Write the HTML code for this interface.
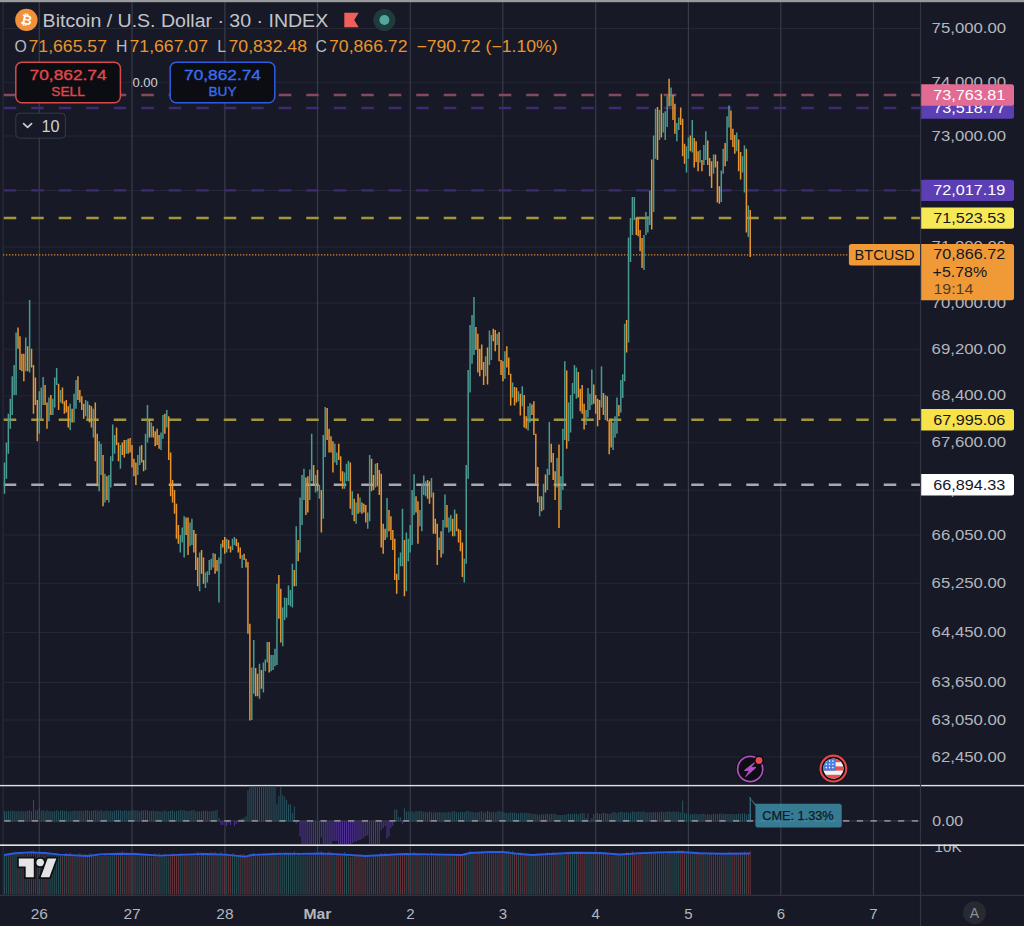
<!DOCTYPE html>
<html><head><meta charset="utf-8"><title>BTCUSD chart</title>
<style>html,body{margin:0;padding:0;background:#171a26;}body{width:1024px;height:926px;overflow:hidden;font-family:"Liberation Sans", sans-serif;}svg{display:block}</style>
</head><body>
<svg width="1024" height="926" viewBox="0 0 1024 926" font-family='"Liberation Sans", sans-serif'>
<rect width="1024" height="926" fill="#171a26"/>
<rect x="4" y="28.00" width="916.5" height="1" fill="#242734"/><rect x="4" y="81.80" width="916.5" height="1" fill="#242734"/><rect x="4" y="135.50" width="916.5" height="1" fill="#242734"/><rect x="4" y="190.00" width="916.5" height="1" fill="#242734"/><rect x="4" y="246.50" width="916.5" height="1" fill="#242734"/><rect x="4" y="302.50" width="916.5" height="1" fill="#242734"/><rect x="4" y="348.80" width="916.5" height="1" fill="#242734"/><rect x="4" y="395.30" width="916.5" height="1" fill="#242734"/><rect x="4" y="442.30" width="916.5" height="1" fill="#242734"/><rect x="4" y="489.70" width="916.5" height="1" fill="#242734"/><rect x="4" y="534.50" width="916.5" height="1" fill="#242734"/><rect x="4" y="582.80" width="916.5" height="1" fill="#242734"/><rect x="4" y="632.00" width="916.5" height="1" fill="#242734"/><rect x="4" y="682.00" width="916.5" height="1" fill="#242734"/><rect x="4" y="719.50" width="916.5" height="1" fill="#242734"/><rect x="4" y="756.50" width="916.5" height="1" fill="#242734"/><rect x="38.70" y="2" width="1.2" height="894" fill="#383b48"/><rect x="131.40" y="2" width="1.2" height="894" fill="#383b48"/><rect x="224.30" y="2" width="1.2" height="894" fill="#383b48"/><rect x="316.90" y="2" width="1.2" height="894" fill="#383b48"/><rect x="409.70" y="2" width="1.2" height="894" fill="#383b48"/><rect x="502.20" y="2" width="1.2" height="894" fill="#383b48"/><rect x="595.10" y="2" width="1.2" height="894" fill="#383b48"/><rect x="687.80" y="2" width="1.2" height="894" fill="#383b48"/><rect x="780.20" y="2" width="1.2" height="894" fill="#383b48"/><rect x="872.90" y="2" width="1.2" height="894" fill="#383b48"/><rect x="2.6" y="2" width="1" height="894" fill="#2c2f3c"/>
<line x1="3.75" y1="95" x2="920.5" y2="95" stroke="#84485f" stroke-width="2.4" stroke-dasharray="12.5 15" opacity="1"/>
<line x1="3.75" y1="108" x2="920.5" y2="108" stroke="#3f2a74" stroke-width="2.4" stroke-dasharray="12.5 15" opacity="1"/>
<line x1="3.75" y1="190.4" x2="920.5" y2="190.4" stroke="#3f2a74" stroke-width="2.4" stroke-dasharray="12.5 15" opacity="1"/>
<line x1="3.75" y1="218" x2="920.5" y2="218" stroke="#a3963a" stroke-width="2.4" stroke-dasharray="12.5 15" opacity="1"/>
<line x1="3.75" y1="419.8" x2="920.5" y2="419.8" stroke="#a3963a" stroke-width="2.4" stroke-dasharray="12.5 15" opacity="1"/>
<line x1="3.75" y1="484.7" x2="920.5" y2="484.7" stroke="#a9a9ab" stroke-width="2.4" stroke-dasharray="12.5 15" opacity="1"/>
<line x1="3" y1="254.8" x2="849" y2="254.8" stroke="#d9892f" stroke-width="1.3" stroke-dasharray="1.3 1.7"/>
<g><rect x="3.75" y="462.50" width="1.5" height="31.25" fill="#4a9a92"/><rect x="5.68" y="442.50" width="1.5" height="36.25" fill="#4a9a92"/><rect x="7.61" y="413.75" width="1.5" height="40.00" fill="#4a9a92"/><rect x="9.55" y="398.75" width="1.5" height="30.00" fill="#4a9a92"/><rect x="11.48" y="376.25" width="1.5" height="38.75" fill="#4a9a92"/><rect x="13.41" y="365.00" width="1.5" height="30.00" fill="#4a9a92"/><rect x="15.34" y="332.50" width="1.5" height="62.50" fill="#4a9a92"/><rect x="17.27" y="327.50" width="1.5" height="21.25" fill="#e8952f"/><rect x="19.21" y="336.25" width="1.5" height="33.75" fill="#e8952f"/><rect x="21.14" y="353.75" width="1.5" height="17.50" fill="#e8952f"/><rect x="23.07" y="353.75" width="1.5" height="27.50" fill="#e8952f"/><rect x="25.00" y="337.50" width="1.5" height="33.75" fill="#4a9a92"/><rect x="26.93" y="346.25" width="1.5" height="25.00" fill="#e8952f"/><rect x="28.87" y="300.00" width="1.5" height="72.50" fill="#4a9a92"/><rect x="30.80" y="348.75" width="1.5" height="18.75" fill="#e8952f"/><rect x="32.73" y="365.00" width="1.5" height="48.75" fill="#e8952f"/><rect x="34.66" y="377.50" width="1.5" height="27.50" fill="#e8952f"/><rect x="36.59" y="400.00" width="1.5" height="41.25" fill="#e8952f"/><rect x="38.53" y="391.25" width="1.5" height="42.50" fill="#4a9a92"/><rect x="40.46" y="387.50" width="1.5" height="32.50" fill="#4a9a92"/><rect x="42.39" y="377.00" width="1.5" height="28.00" fill="#4a9a92"/><rect x="44.32" y="385.00" width="1.5" height="20.00" fill="#e8952f"/><rect x="46.25" y="402.50" width="1.5" height="26.25" fill="#e8952f"/><rect x="48.19" y="397.50" width="1.5" height="23.75" fill="#4a9a92"/><rect x="50.12" y="395.00" width="1.5" height="20.00" fill="#e8952f"/><rect x="52.05" y="398.75" width="1.5" height="16.25" fill="#4a9a92"/><rect x="53.98" y="377.50" width="1.5" height="30.00" fill="#4a9a92"/><rect x="55.91" y="368.00" width="1.5" height="17.00" fill="#4a9a92"/><rect x="57.85" y="383.75" width="1.5" height="26.25" fill="#e8952f"/><rect x="59.78" y="390.00" width="1.5" height="12.50" fill="#4a9a92"/><rect x="61.71" y="387.50" width="1.5" height="16.25" fill="#e8952f"/><rect x="63.64" y="401.25" width="1.5" height="12.50" fill="#e8952f"/><rect x="65.57" y="400.00" width="1.5" height="12.50" fill="#e8952f"/><rect x="67.51" y="406.25" width="1.5" height="21.25" fill="#e8952f"/><rect x="69.44" y="403.75" width="1.5" height="26.25" fill="#4a9a92"/><rect x="71.37" y="408.75" width="1.5" height="13.75" fill="#e8952f"/><rect x="73.30" y="393.75" width="1.5" height="28.75" fill="#4a9a92"/><rect x="75.23" y="380.00" width="1.5" height="28.75" fill="#4a9a92"/><rect x="77.17" y="376.25" width="1.5" height="23.75" fill="#e8952f"/><rect x="79.10" y="390.00" width="1.5" height="12.50" fill="#e8952f"/><rect x="81.03" y="396.25" width="1.5" height="13.75" fill="#e8952f"/><rect x="82.96" y="403.75" width="1.5" height="15.00" fill="#e8952f"/><rect x="84.89" y="400.00" width="1.5" height="16.25" fill="#4a9a92"/><rect x="86.83" y="401.25" width="1.5" height="18.75" fill="#4a9a92"/><rect x="88.76" y="405.00" width="1.5" height="17.50" fill="#e8952f"/><rect x="90.69" y="406.25" width="1.5" height="21.25" fill="#e8952f"/><rect x="92.62" y="408.75" width="1.5" height="28.75" fill="#4a9a92"/><rect x="94.55" y="402.50" width="1.5" height="58.75" fill="#e8952f"/><rect x="96.49" y="433.75" width="1.5" height="52.50" fill="#e8952f"/><rect x="98.42" y="441.25" width="1.5" height="50.00" fill="#4a9a92"/><rect x="100.35" y="443.75" width="1.5" height="31.25" fill="#4a9a92"/><rect x="102.28" y="455.00" width="1.5" height="51.25" fill="#e8952f"/><rect x="104.21" y="473.75" width="1.5" height="28.75" fill="#4a9a92"/><rect x="106.15" y="476.25" width="1.5" height="23.75" fill="#e8952f"/><rect x="108.08" y="475.00" width="1.5" height="27.50" fill="#4a9a92"/><rect x="110.01" y="456.25" width="1.5" height="31.25" fill="#4a9a92"/><rect x="111.94" y="424.50" width="1.5" height="36.75" fill="#4a9a92"/><rect x="113.87" y="435.00" width="1.5" height="18.75" fill="#4a9a92"/><rect x="115.81" y="427.50" width="1.5" height="17.50" fill="#e8952f"/><rect x="117.74" y="442.50" width="1.5" height="18.75" fill="#e8952f"/><rect x="119.67" y="445.00" width="1.5" height="23.75" fill="#4a9a92"/><rect x="121.60" y="442.50" width="1.5" height="12.50" fill="#e8952f"/><rect x="123.53" y="440.00" width="1.5" height="17.50" fill="#e8952f"/><rect x="125.47" y="440.00" width="1.5" height="13.75" fill="#4a9a92"/><rect x="127.40" y="438.75" width="1.5" height="15.00" fill="#e8952f"/><rect x="129.33" y="438.00" width="1.5" height="14.50" fill="#e8952f"/><rect x="131.26" y="445.00" width="1.5" height="22.50" fill="#e8952f"/><rect x="133.19" y="458.75" width="1.5" height="17.50" fill="#e8952f"/><rect x="135.13" y="462.50" width="1.5" height="22.50" fill="#e8952f"/><rect x="137.06" y="455.00" width="1.5" height="20.00" fill="#4a9a92"/><rect x="138.99" y="446.25" width="1.5" height="18.75" fill="#4a9a92"/><rect x="140.92" y="445.00" width="1.5" height="17.50" fill="#e8952f"/><rect x="142.85" y="460.00" width="1.5" height="11.25" fill="#e8952f"/><rect x="144.79" y="433.75" width="1.5" height="36.25" fill="#4a9a92"/><rect x="146.72" y="405.00" width="1.5" height="37.50" fill="#4a9a92"/><rect x="148.65" y="418.75" width="1.5" height="18.75" fill="#e8952f"/><rect x="150.58" y="422.50" width="1.5" height="15.00" fill="#4a9a92"/><rect x="152.51" y="426.25" width="1.5" height="11.25" fill="#e8952f"/><rect x="154.45" y="431.25" width="1.5" height="15.00" fill="#e8952f"/><rect x="156.38" y="428.75" width="1.5" height="16.25" fill="#e8952f"/><rect x="158.31" y="435.00" width="1.5" height="13.75" fill="#e8952f"/><rect x="160.24" y="432.50" width="1.5" height="17.50" fill="#4a9a92"/><rect x="162.17" y="415.00" width="1.5" height="23.75" fill="#4a9a92"/><rect x="164.11" y="413.75" width="1.5" height="20.00" fill="#e8952f"/><rect x="166.04" y="410.00" width="1.5" height="17.50" fill="#4a9a92"/><rect x="167.97" y="416.25" width="1.5" height="43.75" fill="#e8952f"/><rect x="169.90" y="452.50" width="1.5" height="43.75" fill="#e8952f"/><rect x="171.83" y="480.00" width="1.5" height="22.50" fill="#e8952f"/><rect x="173.77" y="490.00" width="1.5" height="23.75" fill="#e8952f"/><rect x="175.70" y="503.75" width="1.5" height="35.00" fill="#e8952f"/><rect x="177.63" y="525.00" width="1.5" height="18.75" fill="#e8952f"/><rect x="179.56" y="535.00" width="1.5" height="17.50" fill="#4a9a92"/><rect x="181.49" y="527.50" width="1.5" height="15.00" fill="#4a9a92"/><rect x="183.43" y="516.25" width="1.5" height="41.25" fill="#4a9a92"/><rect x="185.36" y="517.50" width="1.5" height="17.50" fill="#e8952f"/><rect x="187.29" y="517.50" width="1.5" height="37.50" fill="#e8952f"/><rect x="189.22" y="522.50" width="1.5" height="23.75" fill="#4a9a92"/><rect x="191.15" y="518.75" width="1.5" height="26.25" fill="#4a9a92"/><rect x="193.09" y="530.00" width="1.5" height="22.50" fill="#e8952f"/><rect x="195.02" y="533.75" width="1.5" height="36.25" fill="#e8952f"/><rect x="196.95" y="557.50" width="1.5" height="28.75" fill="#e8952f"/><rect x="198.88" y="552.50" width="1.5" height="38.75" fill="#4a9a92"/><rect x="200.81" y="550.00" width="1.5" height="23.75" fill="#e8952f"/><rect x="202.75" y="557.50" width="1.5" height="26.25" fill="#e8952f"/><rect x="204.68" y="572.50" width="1.5" height="15.50" fill="#4a9a92"/><rect x="206.61" y="571.25" width="1.5" height="11.25" fill="#4a9a92"/><rect x="208.54" y="560.00" width="1.5" height="15.00" fill="#4a9a92"/><rect x="210.47" y="558.75" width="1.5" height="11.25" fill="#4a9a92"/><rect x="212.41" y="553.00" width="1.5" height="14.50" fill="#4a9a92"/><rect x="214.34" y="553.75" width="1.5" height="20.00" fill="#e8952f"/><rect x="216.27" y="560.00" width="1.5" height="11.25" fill="#e8952f"/><rect x="218.20" y="557.50" width="1.5" height="45.00" fill="#4a9a92"/><rect x="220.13" y="543.75" width="1.5" height="20.00" fill="#4a9a92"/><rect x="222.07" y="540.00" width="1.5" height="7.50" fill="#e8952f"/><rect x="224.00" y="537.00" width="1.5" height="16.75" fill="#e8952f"/><rect x="225.93" y="538.75" width="1.5" height="13.75" fill="#4a9a92"/><rect x="227.86" y="540.00" width="1.5" height="8.75" fill="#e8952f"/><rect x="229.79" y="546.25" width="1.5" height="6.25" fill="#e8952f"/><rect x="231.73" y="538.75" width="1.5" height="11.25" fill="#4a9a92"/><rect x="233.66" y="537.00" width="1.5" height="8.00" fill="#4a9a92"/><rect x="235.59" y="538.75" width="1.5" height="7.50" fill="#e8952f"/><rect x="237.52" y="542.50" width="1.5" height="10.00" fill="#e8952f"/><rect x="239.45" y="547.50" width="1.5" height="11.25" fill="#e8952f"/><rect x="241.39" y="555.00" width="1.5" height="13.00" fill="#4a9a92"/><rect x="243.32" y="553.75" width="1.5" height="6.25" fill="#e8952f"/><rect x="245.25" y="558.75" width="1.5" height="8.75" fill="#e8952f"/><rect x="247.18" y="562.00" width="1.5" height="71.75" fill="#e8952f"/><rect x="249.11" y="623.75" width="1.5" height="96.75" fill="#e8952f"/><rect x="251.05" y="667.50" width="1.5" height="52.50" fill="#4a9a92"/><rect x="252.98" y="640.00" width="1.5" height="53.75" fill="#4a9a92"/><rect x="254.91" y="668.00" width="1.5" height="28.25" fill="#e8952f"/><rect x="256.84" y="673.75" width="1.5" height="22.50" fill="#e8952f"/><rect x="258.77" y="663.75" width="1.5" height="35.00" fill="#4a9a92"/><rect x="260.71" y="670.00" width="1.5" height="18.75" fill="#e8952f"/><rect x="262.64" y="662.50" width="1.5" height="30.00" fill="#4a9a92"/><rect x="264.57" y="659.50" width="1.5" height="11.75" fill="#4a9a92"/><rect x="266.50" y="642.00" width="1.5" height="20.50" fill="#4a9a92"/><rect x="268.43" y="642.00" width="1.5" height="30.50" fill="#e8952f"/><rect x="270.37" y="655.00" width="1.5" height="16.25" fill="#4a9a92"/><rect x="272.30" y="655.00" width="1.5" height="15.00" fill="#4a9a92"/><rect x="274.23" y="648.75" width="1.5" height="17.50" fill="#4a9a92"/><rect x="276.16" y="583.75" width="1.5" height="81.25" fill="#4a9a92"/><rect x="278.09" y="575.00" width="1.5" height="43.75" fill="#e8952f"/><rect x="280.03" y="588.75" width="1.5" height="53.75" fill="#e8952f"/><rect x="281.96" y="607.50" width="1.5" height="38.75" fill="#4a9a92"/><rect x="283.89" y="597.50" width="1.5" height="22.50" fill="#4a9a92"/><rect x="285.82" y="598.00" width="1.5" height="19.50" fill="#4a9a92"/><rect x="287.75" y="585.50" width="1.5" height="19.50" fill="#4a9a92"/><rect x="289.69" y="590.00" width="1.5" height="16.25" fill="#4a9a92"/><rect x="291.62" y="563.75" width="1.5" height="43.75" fill="#4a9a92"/><rect x="293.55" y="570.00" width="1.5" height="16.25" fill="#e8952f"/><rect x="295.48" y="526.25" width="1.5" height="60.00" fill="#4a9a92"/><rect x="297.41" y="540.00" width="1.5" height="21.25" fill="#e8952f"/><rect x="299.35" y="497.50" width="1.5" height="55.00" fill="#4a9a92"/><rect x="301.28" y="475.00" width="1.5" height="50.00" fill="#4a9a92"/><rect x="303.21" y="468.75" width="1.5" height="31.25" fill="#4a9a92"/><rect x="305.14" y="477.50" width="1.5" height="37.50" fill="#e8952f"/><rect x="307.07" y="476.25" width="1.5" height="36.25" fill="#e8952f"/><rect x="309.01" y="469.50" width="1.5" height="30.50" fill="#4a9a92"/><rect x="310.94" y="433.75" width="1.5" height="47.50" fill="#4a9a92"/><rect x="312.87" y="465.00" width="1.5" height="20.00" fill="#e8952f"/><rect x="314.80" y="475.00" width="1.5" height="17.50" fill="#4a9a92"/><rect x="316.73" y="470.00" width="1.5" height="21.25" fill="#e8952f"/><rect x="318.67" y="485.00" width="1.5" height="13.75" fill="#4a9a92"/><rect x="320.60" y="490.00" width="1.5" height="42.50" fill="#e8952f"/><rect x="322.53" y="435.00" width="1.5" height="83.75" fill="#4a9a92"/><rect x="324.46" y="407.00" width="1.5" height="50.00" fill="#4a9a92"/><rect x="326.39" y="408.00" width="1.5" height="32.00" fill="#e8952f"/><rect x="328.33" y="428.75" width="1.5" height="23.75" fill="#e8952f"/><rect x="330.26" y="436.25" width="1.5" height="16.25" fill="#e8952f"/><rect x="332.19" y="441.25" width="1.5" height="31.25" fill="#e8952f"/><rect x="334.12" y="443.75" width="1.5" height="18.75" fill="#4a9a92"/><rect x="336.05" y="452.50" width="1.5" height="12.50" fill="#4a9a92"/><rect x="337.99" y="443.75" width="1.5" height="16.25" fill="#e8952f"/><rect x="339.92" y="456.25" width="1.5" height="25.00" fill="#e8952f"/><rect x="341.85" y="471.25" width="1.5" height="17.50" fill="#e8952f"/><rect x="343.78" y="472.50" width="1.5" height="16.25" fill="#4a9a92"/><rect x="345.71" y="463.75" width="1.5" height="17.50" fill="#4a9a92"/><rect x="347.65" y="460.75" width="1.5" height="20.50" fill="#4a9a92"/><rect x="349.58" y="462.50" width="1.5" height="46.25" fill="#e8952f"/><rect x="351.51" y="491.25" width="1.5" height="23.75" fill="#4a9a92"/><rect x="353.44" y="498.75" width="1.5" height="22.50" fill="#e8952f"/><rect x="355.37" y="502.50" width="1.5" height="21.25" fill="#4a9a92"/><rect x="357.31" y="493.75" width="1.5" height="20.00" fill="#e8952f"/><rect x="359.24" y="497.50" width="1.5" height="15.00" fill="#4a9a92"/><rect x="361.17" y="502.50" width="1.5" height="11.25" fill="#e8952f"/><rect x="363.10" y="503.75" width="1.5" height="8.75" fill="#e8952f"/><rect x="365.03" y="505.00" width="1.5" height="17.50" fill="#e8952f"/><rect x="366.97" y="512.50" width="1.5" height="16.25" fill="#4a9a92"/><rect x="368.90" y="455.00" width="1.5" height="66.25" fill="#4a9a92"/><rect x="370.83" y="458.75" width="1.5" height="32.50" fill="#e8952f"/><rect x="372.76" y="475.00" width="1.5" height="15.00" fill="#e8952f"/><rect x="374.69" y="463.75" width="1.5" height="23.75" fill="#4a9a92"/><rect x="376.62" y="463.00" width="1.5" height="23.25" fill="#e8952f"/><rect x="378.56" y="470.00" width="1.5" height="25.00" fill="#e8952f"/><rect x="380.49" y="473.75" width="1.5" height="73.75" fill="#e8952f"/><rect x="382.42" y="523.75" width="1.5" height="30.00" fill="#e8952f"/><rect x="384.35" y="528.75" width="1.5" height="11.25" fill="#e8952f"/><rect x="386.28" y="498.00" width="1.5" height="39.50" fill="#4a9a92"/><rect x="388.22" y="510.00" width="1.5" height="21.25" fill="#e8952f"/><rect x="390.15" y="516.25" width="1.5" height="23.75" fill="#e8952f"/><rect x="392.08" y="530.00" width="1.5" height="20.00" fill="#e8952f"/><rect x="394.01" y="538.75" width="1.5" height="41.25" fill="#e8952f"/><rect x="395.94" y="573.75" width="1.5" height="20.00" fill="#e8952f"/><rect x="397.88" y="557.50" width="1.5" height="22.50" fill="#4a9a92"/><rect x="399.81" y="552.50" width="1.5" height="13.75" fill="#4a9a92"/><rect x="401.74" y="508.75" width="1.5" height="57.50" fill="#4a9a92"/><rect x="403.67" y="540.00" width="1.5" height="56.25" fill="#e8952f"/><rect x="405.60" y="532.50" width="1.5" height="58.75" fill="#4a9a92"/><rect x="407.54" y="538.75" width="1.5" height="22.50" fill="#4a9a92"/><rect x="409.47" y="525.00" width="1.5" height="27.50" fill="#4a9a92"/><rect x="411.40" y="490.00" width="1.5" height="55.00" fill="#4a9a92"/><rect x="413.33" y="474.25" width="1.5" height="40.75" fill="#4a9a92"/><rect x="415.26" y="496.25" width="1.5" height="16.25" fill="#e8952f"/><rect x="417.20" y="501.25" width="1.5" height="42.50" fill="#e8952f"/><rect x="419.13" y="510.00" width="1.5" height="16.25" fill="#4a9a92"/><rect x="421.06" y="483.75" width="1.5" height="47.50" fill="#4a9a92"/><rect x="422.99" y="475.50" width="1.5" height="19.50" fill="#4a9a92"/><rect x="424.92" y="481.25" width="1.5" height="15.00" fill="#4a9a92"/><rect x="426.86" y="480.00" width="1.5" height="18.75" fill="#e8952f"/><rect x="428.79" y="481.25" width="1.5" height="22.50" fill="#e8952f"/><rect x="430.72" y="478.00" width="1.5" height="19.50" fill="#4a9a92"/><rect x="432.65" y="492.50" width="1.5" height="41.25" fill="#e8952f"/><rect x="434.58" y="518.75" width="1.5" height="15.00" fill="#e8952f"/><rect x="436.52" y="523.75" width="1.5" height="41.25" fill="#e8952f"/><rect x="438.45" y="537.50" width="1.5" height="12.50" fill="#4a9a92"/><rect x="440.38" y="531.25" width="1.5" height="26.25" fill="#e8952f"/><rect x="442.31" y="520.00" width="1.5" height="33.75" fill="#4a9a92"/><rect x="444.24" y="494.50" width="1.5" height="33.00" fill="#4a9a92"/><rect x="446.18" y="505.00" width="1.5" height="22.50" fill="#e8952f"/><rect x="448.11" y="517.50" width="1.5" height="15.00" fill="#4a9a92"/><rect x="450.04" y="515.00" width="1.5" height="16.25" fill="#4a9a92"/><rect x="451.97" y="518.75" width="1.5" height="17.50" fill="#e8952f"/><rect x="453.90" y="509.50" width="1.5" height="26.75" fill="#4a9a92"/><rect x="455.84" y="513.75" width="1.5" height="17.50" fill="#e8952f"/><rect x="457.77" y="528.75" width="1.5" height="13.75" fill="#e8952f"/><rect x="459.70" y="530.00" width="1.5" height="21.25" fill="#e8952f"/><rect x="461.63" y="542.50" width="1.5" height="34.50" fill="#e8952f"/><rect x="463.56" y="558.75" width="1.5" height="23.75" fill="#4a9a92"/><rect x="465.50" y="465.00" width="1.5" height="98.75" fill="#4a9a92"/><rect x="467.43" y="370.00" width="1.5" height="108.75" fill="#4a9a92"/><rect x="469.36" y="325.00" width="1.5" height="67.50" fill="#4a9a92"/><rect x="471.29" y="315.00" width="1.5" height="48.75" fill="#4a9a92"/><rect x="473.22" y="297.00" width="1.5" height="58.00" fill="#4a9a92"/><rect x="475.16" y="327.00" width="1.5" height="23.00" fill="#e8952f"/><rect x="477.09" y="333.75" width="1.5" height="38.75" fill="#e8952f"/><rect x="479.02" y="348.75" width="1.5" height="27.50" fill="#e8952f"/><rect x="480.95" y="344.50" width="1.5" height="25.50" fill="#e8952f"/><rect x="482.88" y="362.00" width="1.5" height="23.00" fill="#e8952f"/><rect x="484.82" y="356.25" width="1.5" height="20.00" fill="#4a9a92"/><rect x="486.75" y="347.50" width="1.5" height="37.00" fill="#e8952f"/><rect x="488.68" y="330.50" width="1.5" height="34.50" fill="#4a9a92"/><rect x="490.61" y="335.00" width="1.5" height="25.00" fill="#4a9a92"/><rect x="492.54" y="328.75" width="1.5" height="12.50" fill="#e8952f"/><rect x="494.48" y="330.00" width="1.5" height="21.25" fill="#e8952f"/><rect x="496.41" y="333.75" width="1.5" height="11.25" fill="#4a9a92"/><rect x="498.34" y="332.00" width="1.5" height="29.25" fill="#e8952f"/><rect x="500.27" y="360.00" width="1.5" height="15.00" fill="#e8952f"/><rect x="502.20" y="361.25" width="1.5" height="20.00" fill="#e8952f"/><rect x="504.14" y="351.25" width="1.5" height="27.50" fill="#4a9a92"/><rect x="506.07" y="346.25" width="1.5" height="21.25" fill="#e8952f"/><rect x="508.00" y="357.50" width="1.5" height="17.50" fill="#e8952f"/><rect x="509.93" y="373.75" width="1.5" height="31.75" fill="#e8952f"/><rect x="511.86" y="382.50" width="1.5" height="15.00" fill="#4a9a92"/><rect x="513.80" y="387.00" width="1.5" height="18.50" fill="#e8952f"/><rect x="515.73" y="387.50" width="1.5" height="15.00" fill="#e8952f"/><rect x="517.66" y="391.25" width="1.5" height="10.00" fill="#4a9a92"/><rect x="519.59" y="393.75" width="1.5" height="21.75" fill="#e8952f"/><rect x="521.52" y="386.25" width="1.5" height="20.00" fill="#4a9a92"/><rect x="523.46" y="395.00" width="1.5" height="32.50" fill="#e8952f"/><rect x="525.39" y="416.25" width="1.5" height="12.50" fill="#e8952f"/><rect x="527.32" y="406.25" width="1.5" height="24.25" fill="#4a9a92"/><rect x="529.25" y="403.00" width="1.5" height="19.50" fill="#4a9a92"/><rect x="531.18" y="404.50" width="1.5" height="10.50" fill="#e8952f"/><rect x="533.12" y="401.25" width="1.5" height="33.75" fill="#e8952f"/><rect x="535.05" y="433.75" width="1.5" height="50.00" fill="#e8952f"/><rect x="536.98" y="467.00" width="1.5" height="35.50" fill="#e8952f"/><rect x="538.91" y="496.25" width="1.5" height="20.00" fill="#4a9a92"/><rect x="540.84" y="496.25" width="1.5" height="15.00" fill="#e8952f"/><rect x="542.78" y="483.75" width="1.5" height="26.25" fill="#4a9a92"/><rect x="544.71" y="474.50" width="1.5" height="18.00" fill="#e8952f"/><rect x="546.64" y="468.75" width="1.5" height="21.25" fill="#4a9a92"/><rect x="548.57" y="422.00" width="1.5" height="53.00" fill="#4a9a92"/><rect x="550.50" y="443.75" width="1.5" height="18.75" fill="#e8952f"/><rect x="552.44" y="453.00" width="1.5" height="27.00" fill="#e8952f"/><rect x="554.37" y="471.25" width="1.5" height="28.75" fill="#e8952f"/><rect x="556.30" y="458.00" width="1.5" height="29.50" fill="#4a9a92"/><rect x="558.23" y="444.50" width="1.5" height="83.50" fill="#e8952f"/><rect x="560.16" y="476.25" width="1.5" height="33.75" fill="#4a9a92"/><rect x="562.10" y="428.75" width="1.5" height="61.25" fill="#4a9a92"/><rect x="564.03" y="361.25" width="1.5" height="78.75" fill="#4a9a92"/><rect x="565.96" y="370.50" width="1.5" height="78.25" fill="#e8952f"/><rect x="567.89" y="402.50" width="1.5" height="38.75" fill="#4a9a92"/><rect x="569.82" y="395.00" width="1.5" height="37.50" fill="#4a9a92"/><rect x="571.76" y="383.00" width="1.5" height="35.75" fill="#4a9a92"/><rect x="573.69" y="365.00" width="1.5" height="28.75" fill="#4a9a92"/><rect x="575.62" y="367.50" width="1.5" height="31.25" fill="#4a9a92"/><rect x="577.55" y="372.00" width="1.5" height="25.50" fill="#e8952f"/><rect x="579.48" y="388.75" width="1.5" height="22.50" fill="#e8952f"/><rect x="581.42" y="385.00" width="1.5" height="28.75" fill="#e8952f"/><rect x="583.35" y="403.75" width="1.5" height="25.75" fill="#e8952f"/><rect x="585.28" y="410.00" width="1.5" height="15.00" fill="#4a9a92"/><rect x="587.21" y="388.00" width="1.5" height="29.50" fill="#4a9a92"/><rect x="589.14" y="393.75" width="1.5" height="16.25" fill="#4a9a92"/><rect x="591.08" y="369.50" width="1.5" height="35.50" fill="#4a9a92"/><rect x="593.01" y="384.50" width="1.5" height="19.25" fill="#e8952f"/><rect x="594.94" y="395.00" width="1.5" height="18.75" fill="#e8952f"/><rect x="596.87" y="398.75" width="1.5" height="27.50" fill="#e8952f"/><rect x="598.80" y="400.00" width="1.5" height="20.00" fill="#e8952f"/><rect x="600.74" y="366.25" width="1.5" height="41.25" fill="#4a9a92"/><rect x="602.67" y="393.00" width="1.5" height="22.00" fill="#e8952f"/><rect x="604.60" y="395.00" width="1.5" height="25.00" fill="#4a9a92"/><rect x="606.53" y="396.25" width="1.5" height="25.00" fill="#e8952f"/><rect x="608.46" y="420.00" width="1.5" height="34.25" fill="#e8952f"/><rect x="610.40" y="418.75" width="1.5" height="28.75" fill="#e8952f"/><rect x="612.33" y="422.50" width="1.5" height="27.50" fill="#4a9a92"/><rect x="614.26" y="416.25" width="1.5" height="21.25" fill="#4a9a92"/><rect x="616.19" y="397.50" width="1.5" height="36.25" fill="#4a9a92"/><rect x="618.12" y="405.00" width="1.5" height="11.25" fill="#e8952f"/><rect x="620.06" y="380.00" width="1.5" height="32.50" fill="#4a9a92"/><rect x="621.99" y="374.25" width="1.5" height="23.75" fill="#4a9a92"/><rect x="623.92" y="323.75" width="1.5" height="57.50" fill="#4a9a92"/><rect x="625.85" y="320.00" width="1.5" height="32.50" fill="#e8952f"/><rect x="627.78" y="237.50" width="1.5" height="105.00" fill="#4a9a92"/><rect x="629.72" y="218.00" width="1.5" height="44.00" fill="#4a9a92"/><rect x="631.65" y="197.00" width="1.5" height="38.00" fill="#4a9a92"/><rect x="633.58" y="197.00" width="1.5" height="23.00" fill="#4a9a92"/><rect x="635.51" y="217.50" width="1.5" height="17.50" fill="#e8952f"/><rect x="637.44" y="218.00" width="1.5" height="18.25" fill="#e8952f"/><rect x="639.38" y="230.00" width="1.5" height="21.25" fill="#e8952f"/><rect x="641.31" y="238.00" width="1.5" height="30.00" fill="#e8952f"/><rect x="643.24" y="235.00" width="1.5" height="35.00" fill="#4a9a92"/><rect x="645.17" y="212.00" width="1.5" height="23.00" fill="#4a9a92"/><rect x="647.10" y="216.25" width="1.5" height="16.25" fill="#4a9a92"/><rect x="649.04" y="190.50" width="1.5" height="34.50" fill="#4a9a92"/><rect x="650.97" y="159.50" width="1.5" height="70.00" fill="#e8952f"/><rect x="652.90" y="135.50" width="1.5" height="76.50" fill="#4a9a92"/><rect x="654.83" y="108.75" width="1.5" height="50.00" fill="#4a9a92"/><rect x="656.76" y="107.00" width="1.5" height="53.00" fill="#e8952f"/><rect x="658.70" y="110.00" width="1.5" height="30.00" fill="#4a9a92"/><rect x="660.63" y="93.75" width="1.5" height="43.75" fill="#e8952f"/><rect x="662.56" y="113.00" width="1.5" height="19.50" fill="#4a9a92"/><rect x="664.49" y="111.25" width="1.5" height="28.75" fill="#4a9a92"/><rect x="666.42" y="96.25" width="1.5" height="30.75" fill="#4a9a92"/><rect x="668.36" y="78.75" width="1.5" height="27.50" fill="#e8952f"/><rect x="670.29" y="87.50" width="1.5" height="18.75" fill="#4a9a92"/><rect x="672.22" y="95.00" width="1.5" height="25.00" fill="#e8952f"/><rect x="674.15" y="103.75" width="1.5" height="30.00" fill="#e8952f"/><rect x="676.08" y="123.00" width="1.5" height="18.25" fill="#4a9a92"/><rect x="678.02" y="117.50" width="1.5" height="12.50" fill="#4a9a92"/><rect x="679.95" y="107.50" width="1.5" height="17.50" fill="#e8952f"/><rect x="681.88" y="118.75" width="1.5" height="37.50" fill="#e8952f"/><rect x="683.81" y="143.75" width="1.5" height="20.00" fill="#e8952f"/><rect x="685.74" y="146.25" width="1.5" height="26.25" fill="#4a9a92"/><rect x="687.68" y="137.50" width="1.5" height="21.25" fill="#4a9a92"/><rect x="689.61" y="135.50" width="1.5" height="15.75" fill="#e8952f"/><rect x="691.54" y="120.00" width="1.5" height="32.50" fill="#4a9a92"/><rect x="693.47" y="138.00" width="1.5" height="29.50" fill="#e8952f"/><rect x="695.40" y="141.25" width="1.5" height="20.75" fill="#e8952f"/><rect x="697.34" y="151.25" width="1.5" height="20.00" fill="#e8952f"/><rect x="699.27" y="150.00" width="1.5" height="12.50" fill="#4a9a92"/><rect x="701.20" y="160.00" width="1.5" height="11.25" fill="#e8952f"/><rect x="703.13" y="145.00" width="1.5" height="20.00" fill="#4a9a92"/><rect x="705.06" y="131.25" width="1.5" height="28.75" fill="#4a9a92"/><rect x="707.00" y="140.50" width="1.5" height="24.50" fill="#e8952f"/><rect x="708.93" y="158.00" width="1.5" height="18.25" fill="#e8952f"/><rect x="710.86" y="161.25" width="1.5" height="26.75" fill="#e8952f"/><rect x="712.79" y="154.50" width="1.5" height="19.25" fill="#4a9a92"/><rect x="714.72" y="154.50" width="1.5" height="13.00" fill="#e8952f"/><rect x="716.66" y="161.25" width="1.5" height="41.25" fill="#e8952f"/><rect x="718.59" y="186.25" width="1.5" height="17.50" fill="#e8952f"/><rect x="720.52" y="170.50" width="1.5" height="31.50" fill="#4a9a92"/><rect x="722.45" y="148.75" width="1.5" height="25.00" fill="#4a9a92"/><rect x="724.38" y="143.00" width="1.5" height="23.25" fill="#e8952f"/><rect x="726.32" y="116.25" width="1.5" height="45.00" fill="#4a9a92"/><rect x="728.25" y="105.50" width="1.5" height="22.00" fill="#4a9a92"/><rect x="730.18" y="110.50" width="1.5" height="29.50" fill="#e8952f"/><rect x="732.11" y="128.75" width="1.5" height="18.25" fill="#e8952f"/><rect x="734.04" y="135.00" width="1.5" height="18.75" fill="#e8952f"/><rect x="735.98" y="132.50" width="1.5" height="18.75" fill="#4a9a92"/><rect x="737.91" y="139.50" width="1.5" height="31.75" fill="#e8952f"/><rect x="739.84" y="152.00" width="1.5" height="27.50" fill="#e8952f"/><rect x="741.77" y="156.25" width="1.5" height="16.25" fill="#4a9a92"/><rect x="743.70" y="145.50" width="1.5" height="47.00" fill="#4a9a92"/><rect x="745.64" y="148.75" width="1.5" height="83.75" fill="#e8952f"/><rect x="747.57" y="205.50" width="1.5" height="31.50" fill="#4a9a92"/><rect x="749.50" y="210.00" width="1.5" height="47.00" fill="#e8952f"/></g>
<rect x="0" y="784.9" width="1024" height="1.4" fill="#e2e2e3"/>
<rect x="0" y="844.6" width="1024" height="1.4" fill="#e2e2e3"/>
<line x1="3.75" y1="820.9" x2="920.5" y2="820.9" stroke="#2a2d38" stroke-width="1.6"/>
<g><rect x="4.00" y="811.08" width="1" height="10.72" fill="#29535f"/><rect x="5.93" y="811.36" width="1" height="10.44" fill="#29535f"/><rect x="7.86" y="810.56" width="1" height="11.24" fill="#29535f"/><rect x="9.80" y="811.48" width="1" height="10.32" fill="#29535f"/><rect x="11.73" y="810.74" width="1" height="11.06" fill="#29535f"/><rect x="13.66" y="811.01" width="1" height="10.79" fill="#29535f"/><rect x="15.59" y="811.51" width="1" height="10.29" fill="#29535f"/><rect x="17.52" y="810.79" width="1" height="11.01" fill="#29535f"/><rect x="19.46" y="811.54" width="1" height="10.26" fill="#29535f"/><rect x="21.39" y="810.91" width="1" height="10.89" fill="#29535f"/><rect x="23.32" y="811.49" width="1" height="10.31" fill="#29535f"/><rect x="25.25" y="811.45" width="1" height="10.35" fill="#29535f"/><rect x="27.18" y="810.92" width="1" height="10.88" fill="#29535f"/><rect x="29.12" y="810.28" width="1" height="11.52" fill="#29535f"/><rect x="31.05" y="811.40" width="1" height="10.40" fill="#29535f"/><rect x="32.98" y="799.90" width="1" height="21.90" fill="#29535f"/><rect x="34.91" y="810.60" width="1" height="11.20" fill="#29535f"/><rect x="36.84" y="810.08" width="1" height="11.72" fill="#29535f"/><rect x="38.78" y="807.40" width="1" height="14.40" fill="#29535f"/><rect x="40.71" y="810.97" width="1" height="10.83" fill="#29535f"/><rect x="42.64" y="810.04" width="1" height="11.76" fill="#29535f"/><rect x="44.57" y="811.53" width="1" height="10.27" fill="#29535f"/><rect x="46.50" y="810.23" width="1" height="11.57" fill="#29535f"/><rect x="48.44" y="811.14" width="1" height="10.66" fill="#29535f"/><rect x="50.37" y="811.37" width="1" height="10.43" fill="#29535f"/><rect x="52.30" y="811.41" width="1" height="10.39" fill="#29535f"/><rect x="54.23" y="811.11" width="1" height="10.69" fill="#29535f"/><rect x="56.16" y="810.29" width="1" height="11.51" fill="#29535f"/><rect x="58.10" y="811.31" width="1" height="10.49" fill="#29535f"/><rect x="60.03" y="810.67" width="1" height="11.13" fill="#29535f"/><rect x="61.96" y="810.58" width="1" height="11.22" fill="#29535f"/><rect x="63.89" y="811.00" width="1" height="10.80" fill="#29535f"/><rect x="65.82" y="810.72" width="1" height="11.08" fill="#29535f"/><rect x="67.76" y="811.50" width="1" height="10.30" fill="#29535f"/><rect x="69.69" y="811.50" width="1" height="10.30" fill="#29535f"/><rect x="71.62" y="811.27" width="1" height="10.53" fill="#29535f"/><rect x="73.55" y="810.51" width="1" height="11.29" fill="#29535f"/><rect x="75.48" y="810.92" width="1" height="10.88" fill="#29535f"/><rect x="77.42" y="811.10" width="1" height="10.70" fill="#29535f"/><rect x="79.35" y="810.66" width="1" height="11.14" fill="#29535f"/><rect x="81.28" y="810.87" width="1" height="10.93" fill="#29535f"/><rect x="83.21" y="811.12" width="1" height="10.68" fill="#29535f"/><rect x="85.14" y="810.33" width="1" height="11.47" fill="#29535f"/><rect x="87.08" y="810.48" width="1" height="11.32" fill="#29535f"/><rect x="89.01" y="811.21" width="1" height="10.59" fill="#29535f"/><rect x="90.94" y="810.68" width="1" height="11.12" fill="#29535f"/><rect x="92.87" y="810.76" width="1" height="11.04" fill="#29535f"/><rect x="94.80" y="810.20" width="1" height="11.60" fill="#29535f"/><rect x="96.74" y="810.43" width="1" height="11.37" fill="#29535f"/><rect x="98.67" y="811.14" width="1" height="10.66" fill="#29535f"/><rect x="100.60" y="810.03" width="1" height="11.77" fill="#29535f"/><rect x="102.53" y="811.41" width="1" height="10.39" fill="#29535f"/><rect x="104.46" y="810.93" width="1" height="10.87" fill="#29535f"/><rect x="106.40" y="810.39" width="1" height="11.41" fill="#29535f"/><rect x="108.33" y="811.36" width="1" height="10.44" fill="#29535f"/><rect x="110.26" y="810.82" width="1" height="10.98" fill="#29535f"/><rect x="112.19" y="811.54" width="1" height="10.26" fill="#29535f"/><rect x="114.12" y="810.53" width="1" height="11.27" fill="#29535f"/><rect x="116.06" y="810.38" width="1" height="11.42" fill="#29535f"/><rect x="117.99" y="810.68" width="1" height="11.12" fill="#29535f"/><rect x="119.92" y="810.20" width="1" height="11.60" fill="#29535f"/><rect x="121.85" y="811.10" width="1" height="10.70" fill="#29535f"/><rect x="123.78" y="810.49" width="1" height="11.31" fill="#29535f"/><rect x="125.72" y="810.65" width="1" height="11.15" fill="#29535f"/><rect x="127.65" y="810.67" width="1" height="11.13" fill="#29535f"/><rect x="129.58" y="810.87" width="1" height="10.93" fill="#29535f"/><rect x="131.51" y="810.26" width="1" height="11.54" fill="#29535f"/><rect x="133.44" y="810.09" width="1" height="11.71" fill="#29535f"/><rect x="135.38" y="810.84" width="1" height="10.96" fill="#29535f"/><rect x="137.31" y="810.54" width="1" height="11.26" fill="#29535f"/><rect x="139.24" y="811.50" width="1" height="10.30" fill="#29535f"/><rect x="141.17" y="810.48" width="1" height="11.32" fill="#29535f"/><rect x="143.10" y="810.56" width="1" height="11.24" fill="#29535f"/><rect x="145.04" y="810.01" width="1" height="11.79" fill="#29535f"/><rect x="146.97" y="810.28" width="1" height="11.52" fill="#29535f"/><rect x="148.90" y="811.14" width="1" height="10.66" fill="#29535f"/><rect x="150.83" y="810.98" width="1" height="10.82" fill="#29535f"/><rect x="152.76" y="810.53" width="1" height="11.27" fill="#29535f"/><rect x="154.70" y="811.56" width="1" height="10.24" fill="#29535f"/><rect x="156.63" y="810.86" width="1" height="10.94" fill="#29535f"/><rect x="158.56" y="811.33" width="1" height="10.47" fill="#29535f"/><rect x="160.49" y="811.41" width="1" height="10.39" fill="#29535f"/><rect x="162.42" y="811.51" width="1" height="10.29" fill="#29535f"/><rect x="164.36" y="810.37" width="1" height="11.43" fill="#29535f"/><rect x="166.29" y="811.39" width="1" height="10.41" fill="#29535f"/><rect x="168.22" y="811.20" width="1" height="10.60" fill="#29535f"/><rect x="170.15" y="810.97" width="1" height="10.83" fill="#29535f"/><rect x="172.08" y="810.21" width="1" height="11.59" fill="#29535f"/><rect x="174.02" y="811.47" width="1" height="10.33" fill="#29535f"/><rect x="175.95" y="810.88" width="1" height="10.92" fill="#29535f"/><rect x="177.88" y="810.72" width="1" height="11.08" fill="#29535f"/><rect x="179.81" y="810.19" width="1" height="11.61" fill="#29535f"/><rect x="181.74" y="810.29" width="1" height="11.51" fill="#29535f"/><rect x="183.68" y="810.22" width="1" height="11.58" fill="#29535f"/><rect x="185.61" y="811.15" width="1" height="10.65" fill="#29535f"/><rect x="187.54" y="810.94" width="1" height="10.86" fill="#29535f"/><rect x="189.47" y="811.03" width="1" height="10.77" fill="#29535f"/><rect x="191.40" y="810.19" width="1" height="11.61" fill="#29535f"/><rect x="193.34" y="810.07" width="1" height="11.73" fill="#29535f"/><rect x="195.27" y="811.36" width="1" height="10.44" fill="#29535f"/><rect x="197.20" y="811.32" width="1" height="10.48" fill="#29535f"/><rect x="199.13" y="811.23" width="1" height="10.57" fill="#29535f"/><rect x="201.06" y="811.23" width="1" height="10.57" fill="#29535f"/><rect x="203.00" y="810.82" width="1" height="10.98" fill="#29535f"/><rect x="204.93" y="810.66" width="1" height="11.14" fill="#29535f"/><rect x="206.86" y="811.18" width="1" height="10.62" fill="#29535f"/><rect x="208.79" y="811.59" width="1" height="10.21" fill="#29535f"/><rect x="210.72" y="810.93" width="1" height="10.87" fill="#29535f"/><rect x="212.66" y="811.01" width="1" height="10.79" fill="#29535f"/><rect x="214.59" y="810.69" width="1" height="11.11" fill="#29535f"/><rect x="216.52" y="810.08" width="1" height="11.72" fill="#29535f"/><rect x="405.85" y="811.36" width="1" height="10.44" fill="#29535f"/><rect x="407.79" y="811.67" width="1" height="10.13" fill="#29535f"/><rect x="409.72" y="811.49" width="1" height="10.31" fill="#29535f"/><rect x="411.65" y="811.38" width="1" height="10.42" fill="#29535f"/><rect x="413.58" y="812.50" width="1" height="9.30" fill="#29535f"/><rect x="415.51" y="810.98" width="1" height="10.82" fill="#29535f"/><rect x="417.45" y="811.20" width="1" height="10.60" fill="#29535f"/><rect x="419.38" y="811.03" width="1" height="10.77" fill="#29535f"/><rect x="421.31" y="811.16" width="1" height="10.64" fill="#29535f"/><rect x="423.24" y="811.89" width="1" height="9.91" fill="#29535f"/><rect x="425.17" y="811.88" width="1" height="9.92" fill="#29535f"/><rect x="427.11" y="812.41" width="1" height="9.39" fill="#29535f"/><rect x="429.04" y="811.46" width="1" height="10.34" fill="#29535f"/><rect x="430.97" y="812.49" width="1" height="9.31" fill="#29535f"/><rect x="432.90" y="812.48" width="1" height="9.32" fill="#29535f"/><rect x="434.83" y="812.22" width="1" height="9.58" fill="#29535f"/><rect x="436.77" y="812.31" width="1" height="9.49" fill="#29535f"/><rect x="438.70" y="811.99" width="1" height="9.81" fill="#29535f"/><rect x="440.63" y="812.51" width="1" height="9.29" fill="#29535f"/><rect x="442.56" y="812.60" width="1" height="9.20" fill="#29535f"/><rect x="444.49" y="812.33" width="1" height="9.47" fill="#29535f"/><rect x="446.43" y="812.42" width="1" height="9.38" fill="#29535f"/><rect x="448.36" y="811.95" width="1" height="9.85" fill="#29535f"/><rect x="450.29" y="812.55" width="1" height="9.25" fill="#29535f"/><rect x="452.22" y="811.03" width="1" height="10.77" fill="#29535f"/><rect x="454.15" y="811.49" width="1" height="10.31" fill="#29535f"/><rect x="456.09" y="812.33" width="1" height="9.47" fill="#29535f"/><rect x="458.02" y="812.15" width="1" height="9.65" fill="#29535f"/><rect x="459.95" y="811.97" width="1" height="9.83" fill="#29535f"/><rect x="461.88" y="811.94" width="1" height="9.86" fill="#29535f"/><rect x="463.81" y="812.38" width="1" height="9.42" fill="#29535f"/><rect x="465.75" y="811.07" width="1" height="10.73" fill="#29535f"/><rect x="467.68" y="810.81" width="1" height="10.99" fill="#29535f"/><rect x="469.61" y="811.76" width="1" height="10.04" fill="#29535f"/><rect x="471.54" y="811.73" width="1" height="10.07" fill="#29535f"/><rect x="473.47" y="812.45" width="1" height="9.35" fill="#29535f"/><rect x="475.41" y="812.42" width="1" height="9.38" fill="#29535f"/><rect x="477.34" y="811.98" width="1" height="9.82" fill="#29535f"/><rect x="479.27" y="812.12" width="1" height="9.68" fill="#29535f"/><rect x="481.20" y="811.11" width="1" height="10.69" fill="#29535f"/><rect x="483.13" y="812.31" width="1" height="9.49" fill="#29535f"/><rect x="485.07" y="812.56" width="1" height="9.24" fill="#29535f"/><rect x="487.00" y="810.89" width="1" height="10.91" fill="#29535f"/><rect x="488.93" y="811.65" width="1" height="10.15" fill="#29535f"/><rect x="490.86" y="812.34" width="1" height="9.46" fill="#29535f"/><rect x="492.79" y="811.62" width="1" height="10.18" fill="#29535f"/><rect x="494.73" y="812.55" width="1" height="9.25" fill="#29535f"/><rect x="496.66" y="811.65" width="1" height="10.15" fill="#29535f"/><rect x="498.59" y="810.84" width="1" height="10.96" fill="#29535f"/><rect x="500.52" y="811.74" width="1" height="10.06" fill="#29535f"/><rect x="502.45" y="812.07" width="1" height="9.73" fill="#29535f"/><rect x="504.39" y="812.78" width="1" height="9.02" fill="#29535f"/><rect x="506.32" y="812.73" width="1" height="9.07" fill="#29535f"/><rect x="508.25" y="813.10" width="1" height="8.70" fill="#29535f"/><rect x="510.18" y="812.35" width="1" height="9.45" fill="#29535f"/><rect x="512.11" y="812.79" width="1" height="9.01" fill="#29535f"/><rect x="514.05" y="812.54" width="1" height="9.26" fill="#29535f"/><rect x="515.98" y="813.26" width="1" height="8.54" fill="#29535f"/><rect x="517.91" y="813.51" width="1" height="8.29" fill="#29535f"/><rect x="519.84" y="812.78" width="1" height="9.02" fill="#29535f"/><rect x="521.77" y="812.61" width="1" height="9.19" fill="#29535f"/><rect x="523.71" y="812.86" width="1" height="8.94" fill="#29535f"/><rect x="525.64" y="813.00" width="1" height="8.80" fill="#29535f"/><rect x="527.57" y="813.06" width="1" height="8.74" fill="#29535f"/><rect x="529.50" y="813.24" width="1" height="8.56" fill="#29535f"/><rect x="531.43" y="814.03" width="1" height="7.77" fill="#29535f"/><rect x="533.37" y="813.70" width="1" height="8.10" fill="#29535f"/><rect x="535.30" y="813.99" width="1" height="7.81" fill="#29535f"/><rect x="537.23" y="814.52" width="1" height="7.28" fill="#29535f"/><rect x="539.16" y="814.60" width="1" height="7.20" fill="#29535f"/><rect x="541.09" y="814.32" width="1" height="7.48" fill="#29535f"/><rect x="543.03" y="814.42" width="1" height="7.38" fill="#29535f"/><rect x="544.96" y="813.89" width="1" height="7.91" fill="#29535f"/><rect x="546.89" y="813.59" width="1" height="8.21" fill="#29535f"/><rect x="548.82" y="814.37" width="1" height="7.43" fill="#29535f"/><rect x="550.75" y="813.76" width="1" height="8.04" fill="#29535f"/><rect x="552.69" y="813.76" width="1" height="8.04" fill="#29535f"/><rect x="554.62" y="813.88" width="1" height="7.92" fill="#29535f"/><rect x="556.55" y="814.78" width="1" height="7.02" fill="#29535f"/><rect x="558.48" y="815.05" width="1" height="6.75" fill="#29535f"/><rect x="560.41" y="815.04" width="1" height="6.76" fill="#29535f"/><rect x="562.35" y="814.98" width="1" height="6.82" fill="#29535f"/><rect x="564.28" y="814.87" width="1" height="6.93" fill="#29535f"/><rect x="566.21" y="814.19" width="1" height="7.61" fill="#29535f"/><rect x="568.14" y="813.71" width="1" height="8.09" fill="#29535f"/><rect x="570.07" y="813.69" width="1" height="8.11" fill="#29535f"/><rect x="572.01" y="814.10" width="1" height="7.70" fill="#29535f"/><rect x="573.94" y="813.76" width="1" height="8.04" fill="#29535f"/><rect x="575.87" y="813.46" width="1" height="8.34" fill="#29535f"/><rect x="577.80" y="814.37" width="1" height="7.43" fill="#29535f"/><rect x="579.73" y="813.46" width="1" height="8.34" fill="#29535f"/><rect x="581.67" y="813.02" width="1" height="8.78" fill="#29535f"/><rect x="583.60" y="813.10" width="1" height="8.70" fill="#29535f"/><rect x="585.53" y="817.90" width="1" height="3.90" fill="#29535f"/><rect x="587.46" y="813.33" width="1" height="8.47" fill="#29535f"/><rect x="589.39" y="820.90" width="1" height="1.50" fill="#54339a"/><rect x="591.33" y="817.90" width="1" height="3.90" fill="#29535f"/><rect x="593.26" y="814.22" width="1" height="7.58" fill="#29535f"/><rect x="595.19" y="813.45" width="1" height="8.35" fill="#29535f"/><rect x="597.12" y="813.10" width="1" height="8.70" fill="#29535f"/><rect x="599.05" y="813.80" width="1" height="8.00" fill="#29535f"/><rect x="600.99" y="813.68" width="1" height="8.12" fill="#29535f"/><rect x="602.92" y="812.81" width="1" height="8.99" fill="#29535f"/><rect x="604.85" y="813.01" width="1" height="8.79" fill="#29535f"/><rect x="606.78" y="813.67" width="1" height="8.13" fill="#29535f"/><rect x="608.71" y="813.62" width="1" height="8.18" fill="#29535f"/><rect x="610.65" y="813.48" width="1" height="8.32" fill="#29535f"/><rect x="612.58" y="812.31" width="1" height="9.49" fill="#29535f"/><rect x="614.51" y="812.34" width="1" height="9.46" fill="#29535f"/><rect x="616.44" y="813.16" width="1" height="8.64" fill="#29535f"/><rect x="618.37" y="812.09" width="1" height="9.71" fill="#29535f"/><rect x="620.31" y="811.77" width="1" height="10.03" fill="#29535f"/><rect x="622.24" y="812.11" width="1" height="9.69" fill="#29535f"/><rect x="624.17" y="812.43" width="1" height="9.37" fill="#29535f"/><rect x="626.10" y="812.12" width="1" height="9.68" fill="#29535f"/><rect x="628.03" y="812.69" width="1" height="9.11" fill="#29535f"/><rect x="629.97" y="812.84" width="1" height="8.96" fill="#29535f"/><rect x="631.90" y="811.49" width="1" height="10.31" fill="#29535f"/><rect x="633.83" y="811.92" width="1" height="9.88" fill="#29535f"/><rect x="635.76" y="812.08" width="1" height="9.72" fill="#29535f"/><rect x="637.69" y="811.50" width="1" height="10.30" fill="#29535f"/><rect x="639.63" y="812.18" width="1" height="9.62" fill="#29535f"/><rect x="641.56" y="811.56" width="1" height="10.24" fill="#29535f"/><rect x="643.49" y="811.61" width="1" height="10.19" fill="#29535f"/><rect x="645.42" y="812.45" width="1" height="9.35" fill="#29535f"/><rect x="647.35" y="812.38" width="1" height="9.42" fill="#29535f"/><rect x="649.29" y="812.31" width="1" height="9.49" fill="#29535f"/><rect x="651.22" y="812.37" width="1" height="9.43" fill="#29535f"/><rect x="653.15" y="811.87" width="1" height="9.93" fill="#29535f"/><rect x="655.08" y="812.31" width="1" height="9.49" fill="#29535f"/><rect x="657.01" y="812.08" width="1" height="9.72" fill="#29535f"/><rect x="658.95" y="812.47" width="1" height="9.33" fill="#29535f"/><rect x="660.88" y="811.36" width="1" height="10.44" fill="#29535f"/><rect x="662.81" y="812.13" width="1" height="9.67" fill="#29535f"/><rect x="664.74" y="811.97" width="1" height="9.83" fill="#29535f"/><rect x="666.67" y="811.78" width="1" height="10.02" fill="#29535f"/><rect x="668.61" y="811.31" width="1" height="10.49" fill="#29535f"/><rect x="670.54" y="811.98" width="1" height="9.82" fill="#29535f"/><rect x="672.47" y="811.27" width="1" height="10.53" fill="#29535f"/><rect x="674.40" y="811.83" width="1" height="9.97" fill="#29535f"/><rect x="676.33" y="811.78" width="1" height="10.02" fill="#29535f"/><rect x="678.27" y="811.78" width="1" height="10.02" fill="#29535f"/><rect x="680.20" y="812.57" width="1" height="9.23" fill="#29535f"/><rect x="682.13" y="800.60" width="1" height="21.20" fill="#29535f"/><rect x="684.06" y="812.88" width="1" height="8.92" fill="#29535f"/><rect x="685.99" y="813.40" width="1" height="8.40" fill="#29535f"/><rect x="687.93" y="812.56" width="1" height="9.24" fill="#29535f"/><rect x="689.86" y="814.62" width="1" height="7.18" fill="#29535f"/><rect x="691.79" y="814.14" width="1" height="7.66" fill="#29535f"/><rect x="693.72" y="813.74" width="1" height="8.06" fill="#29535f"/><rect x="695.65" y="814.01" width="1" height="7.79" fill="#29535f"/><rect x="697.59" y="814.38" width="1" height="7.42" fill="#29535f"/><rect x="699.52" y="814.07" width="1" height="7.73" fill="#29535f"/><rect x="701.45" y="814.01" width="1" height="7.79" fill="#29535f"/><rect x="703.38" y="813.65" width="1" height="8.15" fill="#29535f"/><rect x="705.31" y="814.73" width="1" height="7.07" fill="#29535f"/><rect x="707.25" y="814.00" width="1" height="7.80" fill="#29535f"/><rect x="709.18" y="814.50" width="1" height="7.30" fill="#29535f"/><rect x="711.11" y="814.46" width="1" height="7.34" fill="#29535f"/><rect x="713.04" y="813.66" width="1" height="8.14" fill="#29535f"/><rect x="714.97" y="814.09" width="1" height="7.71" fill="#29535f"/><rect x="716.91" y="814.00" width="1" height="7.80" fill="#29535f"/><rect x="718.84" y="813.68" width="1" height="8.12" fill="#29535f"/><rect x="720.77" y="813.44" width="1" height="8.36" fill="#29535f"/><rect x="722.70" y="814.19" width="1" height="7.61" fill="#29535f"/><rect x="724.63" y="813.92" width="1" height="7.88" fill="#29535f"/><rect x="726.57" y="814.09" width="1" height="7.71" fill="#29535f"/><rect x="728.50" y="814.08" width="1" height="7.72" fill="#29535f"/><rect x="730.43" y="813.79" width="1" height="8.01" fill="#29535f"/><rect x="732.36" y="814.18" width="1" height="7.62" fill="#29535f"/><rect x="734.29" y="814.05" width="1" height="7.75" fill="#29535f"/><rect x="736.23" y="814.14" width="1" height="7.66" fill="#29535f"/><rect x="738.16" y="813.39" width="1" height="8.41" fill="#29535f"/><rect x="740.09" y="813.78" width="1" height="8.02" fill="#29535f"/><rect x="742.02" y="813.50" width="1" height="8.30" fill="#29535f"/><rect x="743.95" y="813.39" width="1" height="8.41" fill="#29535f"/><rect x="745.89" y="814.48" width="1" height="7.32" fill="#29535f"/><rect x="747.82" y="814.00" width="1" height="7.80" fill="#29535f"/><rect x="749.75" y="813.39" width="1" height="8.41" fill="#29535f"/><rect x="218.45" y="817.90" width="1" height="3.90" fill="#29535f"/><rect x="220.38" y="820.90" width="1" height="4.00" fill="#54339a"/><rect x="222.32" y="820.90" width="1" height="4.00" fill="#54339a"/><rect x="224.25" y="820.90" width="1" height="1.00" fill="#54339a"/><rect x="226.18" y="820.90" width="1" height="5.00" fill="#54339a"/><rect x="228.11" y="820.90" width="1" height="2.00" fill="#54339a"/><rect x="230.04" y="820.90" width="1" height="4.00" fill="#54339a"/><rect x="233.91" y="820.90" width="1" height="5.00" fill="#54339a"/><rect x="235.84" y="820.90" width="1" height="3.00" fill="#54339a"/><rect x="237.77" y="820.90" width="1" height="1.50" fill="#54339a"/><rect x="239.70" y="819.40" width="1" height="2.40" fill="#29535f"/><rect x="241.64" y="818.40" width="1" height="3.40" fill="#29535f"/><rect x="243.57" y="817.90" width="1" height="3.90" fill="#29535f"/><rect x="245.50" y="816.40" width="1" height="5.40" fill="#29535f"/><rect x="247.43" y="790.40" width="1" height="31.40" fill="#29535f"/><rect x="249.36" y="785.90" width="1" height="35.90" fill="#29535f"/><rect x="251.30" y="785.90" width="1" height="35.90" fill="#29535f"/><rect x="253.23" y="785.90" width="1" height="35.90" fill="#29535f"/><rect x="255.16" y="785.90" width="1" height="35.90" fill="#29535f"/><rect x="257.09" y="785.90" width="1" height="35.90" fill="#29535f"/><rect x="259.02" y="785.90" width="1" height="35.90" fill="#29535f"/><rect x="260.96" y="785.90" width="1" height="35.90" fill="#29535f"/><rect x="262.89" y="785.90" width="1" height="35.90" fill="#29535f"/><rect x="264.82" y="785.90" width="1" height="35.90" fill="#29535f"/><rect x="266.75" y="785.90" width="1" height="35.90" fill="#29535f"/><rect x="268.68" y="785.90" width="1" height="35.90" fill="#29535f"/><rect x="270.62" y="785.90" width="1" height="35.90" fill="#29535f"/><rect x="272.55" y="785.90" width="1" height="35.90" fill="#29535f"/><rect x="274.48" y="785.90" width="1" height="35.90" fill="#29535f"/><rect x="276.41" y="804.40" width="1" height="17.40" fill="#29535f"/><rect x="278.34" y="795.90" width="1" height="25.90" fill="#29535f"/><rect x="280.28" y="786.90" width="1" height="34.90" fill="#29535f"/><rect x="282.21" y="794.90" width="1" height="26.90" fill="#29535f"/><rect x="284.14" y="796.90" width="1" height="24.90" fill="#29535f"/><rect x="286.07" y="799.90" width="1" height="21.90" fill="#29535f"/><rect x="288.00" y="804.40" width="1" height="17.40" fill="#29535f"/><rect x="289.94" y="804.40" width="1" height="17.40" fill="#29535f"/><rect x="291.87" y="812.90" width="1" height="8.90" fill="#29535f"/><rect x="293.80" y="806.40" width="1" height="15.40" fill="#29535f"/><rect x="295.73" y="820.90" width="1" height="2.50" fill="#54339a"/><rect x="297.66" y="820.90" width="1" height="0.50" fill="#54339a"/><rect x="299.60" y="820.90" width="1" height="15.70" fill="#54339a"/><rect x="301.53" y="820.90" width="1" height="23.20" fill="#54339a"/><rect x="303.46" y="820.90" width="1" height="23.20" fill="#54339a"/><rect x="305.39" y="820.90" width="1" height="23.20" fill="#54339a"/><rect x="307.32" y="820.90" width="1" height="23.20" fill="#54339a"/><rect x="309.26" y="820.90" width="1" height="23.20" fill="#54339a"/><rect x="311.19" y="820.90" width="1" height="23.20" fill="#54339a"/><rect x="313.12" y="820.90" width="1" height="23.20" fill="#54339a"/><rect x="315.05" y="820.90" width="1" height="23.20" fill="#54339a"/><rect x="316.98" y="820.90" width="1" height="23.20" fill="#54339a"/><rect x="318.92" y="820.90" width="1" height="23.20" fill="#54339a"/><rect x="320.85" y="820.90" width="1" height="16.50" fill="#54339a"/><rect x="322.78" y="820.90" width="1" height="23.20" fill="#54339a"/><rect x="324.71" y="820.90" width="1" height="23.20" fill="#54339a"/><rect x="326.64" y="820.90" width="1" height="23.20" fill="#54339a"/><rect x="328.58" y="820.90" width="1" height="23.20" fill="#54339a"/><rect x="330.51" y="820.90" width="1" height="23.20" fill="#54339a"/><rect x="332.44" y="820.90" width="1" height="20.00" fill="#54339a"/><rect x="334.37" y="820.90" width="1" height="20.00" fill="#54339a"/><rect x="336.30" y="820.90" width="1" height="20.00" fill="#54339a"/><rect x="338.24" y="820.90" width="1" height="23.20" fill="#54339a"/><rect x="340.17" y="820.90" width="1" height="23.20" fill="#54339a"/><rect x="342.10" y="820.90" width="1" height="23.20" fill="#54339a"/><rect x="344.03" y="820.90" width="1" height="23.20" fill="#54339a"/><rect x="345.96" y="820.90" width="1" height="23.20" fill="#54339a"/><rect x="347.90" y="820.90" width="1" height="23.20" fill="#54339a"/><rect x="349.83" y="820.90" width="1" height="23.20" fill="#54339a"/><rect x="351.76" y="820.90" width="1" height="22.00" fill="#54339a"/><rect x="353.69" y="820.90" width="1" height="21.00" fill="#54339a"/><rect x="355.62" y="820.90" width="1" height="20.50" fill="#54339a"/><rect x="357.56" y="820.90" width="1" height="19.50" fill="#54339a"/><rect x="359.49" y="820.90" width="1" height="19.00" fill="#54339a"/><rect x="361.42" y="820.90" width="1" height="18.00" fill="#54339a"/><rect x="363.35" y="820.90" width="1" height="16.50" fill="#54339a"/><rect x="365.28" y="820.90" width="1" height="15.00" fill="#54339a"/><rect x="367.22" y="820.90" width="1" height="14.50" fill="#54339a"/><rect x="369.15" y="820.90" width="1" height="23.20" fill="#54339a"/><rect x="371.08" y="820.90" width="1" height="23.20" fill="#54339a"/><rect x="373.01" y="820.90" width="1" height="23.20" fill="#54339a"/><rect x="374.94" y="820.90" width="1" height="23.20" fill="#54339a"/><rect x="376.88" y="820.90" width="1" height="23.20" fill="#54339a"/><rect x="378.81" y="820.90" width="1" height="23.20" fill="#54339a"/><rect x="380.74" y="820.90" width="1" height="9.00" fill="#54339a"/><rect x="382.67" y="820.90" width="1" height="7.00" fill="#54339a"/><rect x="384.60" y="820.90" width="1" height="5.00" fill="#54339a"/><rect x="386.53" y="820.90" width="1" height="17.70" fill="#54339a"/><rect x="388.47" y="820.90" width="1" height="15.50" fill="#54339a"/><rect x="390.40" y="820.90" width="1" height="7.00" fill="#54339a"/><rect x="392.33" y="820.90" width="1" height="5.00" fill="#54339a"/><rect x="394.26" y="809.60" width="1" height="12.20" fill="#29535f"/><rect x="396.19" y="809.60" width="1" height="12.20" fill="#29535f"/><rect x="398.13" y="816.90" width="1" height="4.90" fill="#29535f"/><rect x="400.06" y="817.40" width="1" height="4.40" fill="#29535f"/><rect x="401.99" y="820.90" width="1" height="3.00" fill="#54339a"/><rect x="403.92" y="808.30" width="1" height="13.50" fill="#29535f"/></g>
<line x1="4.3" y1="820.9" x2="920.5" y2="820.9" stroke="#85878e" stroke-width="1.6" stroke-dasharray="6.25 7.5"/>
<g><rect x="4.00" y="854.65" width="1" height="39.85" fill="#284d52"/><rect x="5.93" y="855.03" width="1" height="39.47" fill="#284d52"/><rect x="7.86" y="853.91" width="1" height="40.59" fill="#284d52"/><rect x="9.80" y="852.82" width="1" height="41.68" fill="#65343a"/><rect x="11.73" y="854.01" width="1" height="40.49" fill="#284d52"/><rect x="13.66" y="853.77" width="1" height="40.73" fill="#284d52"/><rect x="15.59" y="853.42" width="1" height="41.08" fill="#284d52"/><rect x="17.52" y="852.37" width="1" height="42.13" fill="#65343a"/><rect x="19.46" y="852.61" width="1" height="41.89" fill="#284d52"/><rect x="21.39" y="852.89" width="1" height="41.61" fill="#65343a"/><rect x="23.32" y="853.75" width="1" height="40.75" fill="#284d52"/><rect x="25.25" y="854.23" width="1" height="40.27" fill="#284d52"/><rect x="27.18" y="852.36" width="1" height="42.14" fill="#65343a"/><rect x="29.12" y="853.34" width="1" height="41.16" fill="#284d52"/><rect x="31.05" y="850.91" width="1" height="43.59" fill="#65343a"/><rect x="32.98" y="850.07" width="1" height="44.43" fill="#65343a"/><rect x="34.91" y="852.28" width="1" height="42.22" fill="#65343a"/><rect x="36.84" y="853.37" width="1" height="41.13" fill="#65343a"/><rect x="38.78" y="853.00" width="1" height="41.50" fill="#284d52"/><rect x="40.71" y="853.28" width="1" height="41.22" fill="#284d52"/><rect x="42.64" y="852.58" width="1" height="41.92" fill="#284d52"/><rect x="44.57" y="854.54" width="1" height="39.96" fill="#65343a"/><rect x="46.50" y="853.19" width="1" height="41.31" fill="#65343a"/><rect x="48.44" y="853.16" width="1" height="41.34" fill="#284d52"/><rect x="50.37" y="854.53" width="1" height="39.97" fill="#284d52"/><rect x="52.30" y="855.32" width="1" height="39.18" fill="#284d52"/><rect x="54.23" y="853.55" width="1" height="40.95" fill="#284d52"/><rect x="56.16" y="854.66" width="1" height="39.84" fill="#284d52"/><rect x="58.10" y="853.93" width="1" height="40.57" fill="#284d52"/><rect x="60.03" y="854.94" width="1" height="39.56" fill="#284d52"/><rect x="61.96" y="855.99" width="1" height="38.51" fill="#65343a"/><rect x="63.89" y="854.32" width="1" height="40.18" fill="#284d52"/><rect x="65.82" y="852.80" width="1" height="41.70" fill="#65343a"/><rect x="67.76" y="856.25" width="1" height="38.25" fill="#284d52"/><rect x="69.69" y="852.65" width="1" height="41.85" fill="#65343a"/><rect x="71.62" y="856.11" width="1" height="38.39" fill="#65343a"/><rect x="73.55" y="856.51" width="1" height="37.99" fill="#284d52"/><rect x="75.48" y="854.92" width="1" height="39.58" fill="#284d52"/><rect x="77.42" y="855.10" width="1" height="39.40" fill="#65343a"/><rect x="79.35" y="853.05" width="1" height="41.45" fill="#65343a"/><rect x="81.28" y="855.56" width="1" height="38.94" fill="#65343a"/><rect x="83.21" y="854.82" width="1" height="39.68" fill="#65343a"/><rect x="85.14" y="854.11" width="1" height="40.39" fill="#284d52"/><rect x="87.08" y="856.94" width="1" height="37.56" fill="#284d52"/><rect x="89.01" y="853.34" width="1" height="41.16" fill="#65343a"/><rect x="90.94" y="853.73" width="1" height="40.77" fill="#65343a"/><rect x="92.87" y="855.00" width="1" height="39.50" fill="#284d52"/><rect x="94.80" y="856.09" width="1" height="38.41" fill="#65343a"/><rect x="96.74" y="854.55" width="1" height="39.95" fill="#65343a"/><rect x="98.67" y="856.16" width="1" height="38.34" fill="#284d52"/><rect x="100.60" y="856.15" width="1" height="38.35" fill="#284d52"/><rect x="102.53" y="855.98" width="1" height="38.52" fill="#65343a"/><rect x="104.46" y="853.52" width="1" height="40.98" fill="#284d52"/><rect x="106.40" y="855.28" width="1" height="39.22" fill="#65343a"/><rect x="108.33" y="855.82" width="1" height="38.68" fill="#284d52"/><rect x="110.26" y="854.30" width="1" height="40.20" fill="#284d52"/><rect x="112.19" y="855.22" width="1" height="39.28" fill="#284d52"/><rect x="114.12" y="854.06" width="1" height="40.44" fill="#284d52"/><rect x="116.06" y="853.49" width="1" height="41.01" fill="#65343a"/><rect x="117.99" y="853.30" width="1" height="41.20" fill="#65343a"/><rect x="119.92" y="853.80" width="1" height="40.70" fill="#284d52"/><rect x="121.85" y="851.32" width="1" height="43.18" fill="#65343a"/><rect x="123.78" y="855.36" width="1" height="39.14" fill="#284d52"/><rect x="125.72" y="853.62" width="1" height="40.88" fill="#65343a"/><rect x="127.65" y="854.47" width="1" height="40.03" fill="#65343a"/><rect x="129.58" y="853.63" width="1" height="40.87" fill="#65343a"/><rect x="131.51" y="854.08" width="1" height="40.42" fill="#284d52"/><rect x="133.44" y="853.57" width="1" height="40.93" fill="#65343a"/><rect x="135.38" y="854.25" width="1" height="40.25" fill="#284d52"/><rect x="137.31" y="854.04" width="1" height="40.46" fill="#284d52"/><rect x="139.24" y="854.59" width="1" height="39.91" fill="#284d52"/><rect x="141.17" y="854.82" width="1" height="39.68" fill="#65343a"/><rect x="143.10" y="855.15" width="1" height="39.35" fill="#284d52"/><rect x="145.04" y="855.28" width="1" height="39.22" fill="#284d52"/><rect x="146.97" y="855.12" width="1" height="39.38" fill="#65343a"/><rect x="148.90" y="856.36" width="1" height="38.14" fill="#65343a"/><rect x="150.83" y="856.38" width="1" height="38.12" fill="#284d52"/><rect x="152.76" y="856.79" width="1" height="37.71" fill="#65343a"/><rect x="154.70" y="853.17" width="1" height="41.33" fill="#65343a"/><rect x="156.63" y="856.80" width="1" height="37.70" fill="#284d52"/><rect x="158.56" y="853.33" width="1" height="41.17" fill="#65343a"/><rect x="160.49" y="855.69" width="1" height="38.81" fill="#284d52"/><rect x="162.42" y="856.72" width="1" height="37.78" fill="#284d52"/><rect x="164.36" y="853.50" width="1" height="41.00" fill="#284d52"/><rect x="166.29" y="857.12" width="1" height="37.38" fill="#284d52"/><rect x="168.22" y="856.77" width="1" height="37.73" fill="#284d52"/><rect x="170.15" y="855.56" width="1" height="38.94" fill="#65343a"/><rect x="172.08" y="853.29" width="1" height="41.21" fill="#65343a"/><rect x="174.02" y="854.58" width="1" height="39.92" fill="#65343a"/><rect x="175.95" y="854.81" width="1" height="39.69" fill="#65343a"/><rect x="177.88" y="854.43" width="1" height="40.07" fill="#65343a"/><rect x="179.81" y="853.10" width="1" height="41.40" fill="#284d52"/><rect x="181.74" y="853.40" width="1" height="41.10" fill="#284d52"/><rect x="183.68" y="855.46" width="1" height="39.04" fill="#65343a"/><rect x="185.61" y="854.09" width="1" height="40.41" fill="#65343a"/><rect x="187.54" y="855.62" width="1" height="38.88" fill="#65343a"/><rect x="189.47" y="854.75" width="1" height="39.75" fill="#284d52"/><rect x="191.40" y="855.53" width="1" height="38.97" fill="#284d52"/><rect x="193.34" y="853.92" width="1" height="40.58" fill="#65343a"/><rect x="195.27" y="855.99" width="1" height="38.51" fill="#65343a"/><rect x="197.20" y="851.89" width="1" height="42.61" fill="#65343a"/><rect x="199.13" y="855.77" width="1" height="38.73" fill="#284d52"/><rect x="201.06" y="852.27" width="1" height="42.23" fill="#65343a"/><rect x="203.00" y="853.54" width="1" height="40.96" fill="#65343a"/><rect x="204.93" y="855.57" width="1" height="38.93" fill="#284d52"/><rect x="206.86" y="853.78" width="1" height="40.72" fill="#284d52"/><rect x="208.79" y="853.87" width="1" height="40.63" fill="#65343a"/><rect x="210.72" y="851.92" width="1" height="42.58" fill="#65343a"/><rect x="212.66" y="854.57" width="1" height="39.93" fill="#284d52"/><rect x="214.59" y="851.73" width="1" height="42.77" fill="#65343a"/><rect x="216.52" y="854.12" width="1" height="40.38" fill="#65343a"/><rect x="218.45" y="855.25" width="1" height="39.25" fill="#284d52"/><rect x="220.38" y="851.98" width="1" height="42.52" fill="#284d52"/><rect x="222.32" y="854.32" width="1" height="40.18" fill="#65343a"/><rect x="224.25" y="853.54" width="1" height="40.96" fill="#65343a"/><rect x="226.18" y="853.60" width="1" height="40.90" fill="#284d52"/><rect x="228.11" y="856.22" width="1" height="38.28" fill="#65343a"/><rect x="230.04" y="855.91" width="1" height="38.59" fill="#65343a"/><rect x="231.98" y="853.62" width="1" height="40.88" fill="#284d52"/><rect x="233.91" y="853.70" width="1" height="40.80" fill="#284d52"/><rect x="235.84" y="857.07" width="1" height="37.43" fill="#284d52"/><rect x="237.77" y="855.88" width="1" height="38.62" fill="#284d52"/><rect x="239.70" y="854.11" width="1" height="40.39" fill="#65343a"/><rect x="241.64" y="854.26" width="1" height="40.24" fill="#284d52"/><rect x="243.57" y="854.23" width="1" height="40.27" fill="#65343a"/><rect x="245.50" y="856.61" width="1" height="37.89" fill="#65343a"/><rect x="247.43" y="855.94" width="1" height="38.56" fill="#65343a"/><rect x="249.36" y="854.04" width="1" height="40.46" fill="#65343a"/><rect x="251.30" y="854.93" width="1" height="39.57" fill="#284d52"/><rect x="253.23" y="852.80" width="1" height="41.70" fill="#284d52"/><rect x="255.16" y="855.91" width="1" height="38.59" fill="#65343a"/><rect x="257.09" y="854.27" width="1" height="40.23" fill="#65343a"/><rect x="259.02" y="854.55" width="1" height="39.95" fill="#284d52"/><rect x="260.96" y="855.73" width="1" height="38.77" fill="#65343a"/><rect x="262.89" y="854.87" width="1" height="39.63" fill="#284d52"/><rect x="264.82" y="853.93" width="1" height="40.57" fill="#284d52"/><rect x="266.75" y="855.22" width="1" height="39.28" fill="#284d52"/><rect x="268.68" y="854.05" width="1" height="40.45" fill="#65343a"/><rect x="270.62" y="855.49" width="1" height="39.01" fill="#284d52"/><rect x="272.55" y="852.45" width="1" height="42.05" fill="#65343a"/><rect x="274.48" y="854.33" width="1" height="40.17" fill="#284d52"/><rect x="276.41" y="855.38" width="1" height="39.12" fill="#284d52"/><rect x="278.34" y="852.49" width="1" height="42.01" fill="#65343a"/><rect x="280.28" y="854.03" width="1" height="40.47" fill="#284d52"/><rect x="282.21" y="854.91" width="1" height="39.59" fill="#284d52"/><rect x="284.14" y="854.33" width="1" height="40.17" fill="#284d52"/><rect x="286.07" y="853.63" width="1" height="40.87" fill="#284d52"/><rect x="288.00" y="853.13" width="1" height="41.37" fill="#284d52"/><rect x="289.94" y="854.18" width="1" height="40.32" fill="#284d52"/><rect x="291.87" y="853.31" width="1" height="41.19" fill="#284d52"/><rect x="293.80" y="851.31" width="1" height="43.19" fill="#284d52"/><rect x="295.73" y="855.44" width="1" height="39.06" fill="#284d52"/><rect x="297.66" y="854.47" width="1" height="40.03" fill="#284d52"/><rect x="299.60" y="853.46" width="1" height="41.04" fill="#284d52"/><rect x="301.53" y="855.62" width="1" height="38.88" fill="#284d52"/><rect x="303.46" y="853.80" width="1" height="40.70" fill="#284d52"/><rect x="305.39" y="855.33" width="1" height="39.17" fill="#284d52"/><rect x="307.32" y="855.35" width="1" height="39.15" fill="#65343a"/><rect x="309.26" y="854.00" width="1" height="40.50" fill="#284d52"/><rect x="311.19" y="855.31" width="1" height="39.19" fill="#284d52"/><rect x="313.12" y="854.87" width="1" height="39.63" fill="#65343a"/><rect x="315.05" y="854.08" width="1" height="40.42" fill="#284d52"/><rect x="316.98" y="855.01" width="1" height="39.49" fill="#65343a"/><rect x="318.92" y="855.29" width="1" height="39.21" fill="#284d52"/><rect x="320.85" y="851.11" width="1" height="43.39" fill="#65343a"/><rect x="322.78" y="852.86" width="1" height="41.64" fill="#65343a"/><rect x="324.71" y="854.92" width="1" height="39.58" fill="#284d52"/><rect x="326.64" y="854.25" width="1" height="40.25" fill="#65343a"/><rect x="328.58" y="851.47" width="1" height="43.03" fill="#65343a"/><rect x="330.51" y="852.08" width="1" height="42.42" fill="#65343a"/><rect x="332.44" y="853.79" width="1" height="40.71" fill="#284d52"/><rect x="334.37" y="855.80" width="1" height="38.70" fill="#284d52"/><rect x="336.30" y="855.24" width="1" height="39.26" fill="#65343a"/><rect x="338.24" y="854.49" width="1" height="40.01" fill="#65343a"/><rect x="340.17" y="854.87" width="1" height="39.63" fill="#65343a"/><rect x="342.10" y="853.90" width="1" height="40.60" fill="#65343a"/><rect x="344.03" y="852.02" width="1" height="42.48" fill="#284d52"/><rect x="345.96" y="853.71" width="1" height="40.79" fill="#284d52"/><rect x="347.90" y="856.19" width="1" height="38.31" fill="#284d52"/><rect x="349.83" y="856.76" width="1" height="37.74" fill="#65343a"/><rect x="351.76" y="856.53" width="1" height="37.97" fill="#284d52"/><rect x="353.69" y="855.06" width="1" height="39.44" fill="#65343a"/><rect x="355.62" y="855.10" width="1" height="39.40" fill="#65343a"/><rect x="357.56" y="854.89" width="1" height="39.61" fill="#65343a"/><rect x="359.49" y="853.87" width="1" height="40.63" fill="#65343a"/><rect x="361.42" y="857.33" width="1" height="37.17" fill="#65343a"/><rect x="363.35" y="856.25" width="1" height="38.25" fill="#65343a"/><rect x="365.28" y="856.30" width="1" height="38.20" fill="#65343a"/><rect x="367.22" y="855.34" width="1" height="39.16" fill="#284d52"/><rect x="369.15" y="856.86" width="1" height="37.64" fill="#65343a"/><rect x="371.08" y="857.22" width="1" height="37.28" fill="#65343a"/><rect x="373.01" y="855.19" width="1" height="39.31" fill="#284d52"/><rect x="374.94" y="855.94" width="1" height="38.56" fill="#284d52"/><rect x="376.88" y="854.79" width="1" height="39.71" fill="#284d52"/><rect x="378.81" y="854.84" width="1" height="39.66" fill="#65343a"/><rect x="380.74" y="852.84" width="1" height="41.66" fill="#65343a"/><rect x="382.67" y="854.79" width="1" height="39.71" fill="#65343a"/><rect x="384.60" y="852.71" width="1" height="41.79" fill="#65343a"/><rect x="386.53" y="854.79" width="1" height="39.71" fill="#284d52"/><rect x="388.47" y="855.25" width="1" height="39.25" fill="#65343a"/><rect x="390.40" y="854.96" width="1" height="39.54" fill="#65343a"/><rect x="392.33" y="855.52" width="1" height="38.98" fill="#284d52"/><rect x="394.26" y="855.18" width="1" height="39.32" fill="#65343a"/><rect x="396.19" y="855.90" width="1" height="38.60" fill="#65343a"/><rect x="398.13" y="853.73" width="1" height="40.77" fill="#284d52"/><rect x="400.06" y="854.81" width="1" height="39.69" fill="#65343a"/><rect x="401.99" y="853.13" width="1" height="41.37" fill="#65343a"/><rect x="403.92" y="853.95" width="1" height="40.55" fill="#65343a"/><rect x="405.85" y="852.94" width="1" height="41.56" fill="#284d52"/><rect x="407.79" y="854.24" width="1" height="40.26" fill="#65343a"/><rect x="409.72" y="854.50" width="1" height="40.00" fill="#284d52"/><rect x="411.65" y="855.68" width="1" height="38.82" fill="#65343a"/><rect x="413.58" y="851.94" width="1" height="42.56" fill="#284d52"/><rect x="415.51" y="855.13" width="1" height="39.37" fill="#65343a"/><rect x="417.45" y="854.69" width="1" height="39.81" fill="#65343a"/><rect x="419.38" y="854.69" width="1" height="39.81" fill="#284d52"/><rect x="421.31" y="855.34" width="1" height="39.16" fill="#284d52"/><rect x="423.24" y="855.39" width="1" height="39.11" fill="#65343a"/><rect x="425.17" y="855.47" width="1" height="39.03" fill="#284d52"/><rect x="427.11" y="854.22" width="1" height="40.28" fill="#65343a"/><rect x="429.04" y="855.37" width="1" height="39.13" fill="#65343a"/><rect x="430.97" y="852.44" width="1" height="42.06" fill="#65343a"/><rect x="432.90" y="854.54" width="1" height="39.96" fill="#65343a"/><rect x="434.83" y="853.45" width="1" height="41.05" fill="#65343a"/><rect x="436.77" y="853.99" width="1" height="40.51" fill="#65343a"/><rect x="438.70" y="853.75" width="1" height="40.75" fill="#284d52"/><rect x="440.63" y="854.03" width="1" height="40.47" fill="#65343a"/><rect x="442.56" y="855.68" width="1" height="38.82" fill="#284d52"/><rect x="444.49" y="854.70" width="1" height="39.80" fill="#284d52"/><rect x="446.43" y="855.63" width="1" height="38.87" fill="#65343a"/><rect x="448.36" y="853.76" width="1" height="40.74" fill="#65343a"/><rect x="450.29" y="855.76" width="1" height="38.74" fill="#284d52"/><rect x="452.22" y="856.41" width="1" height="38.09" fill="#65343a"/><rect x="454.15" y="856.14" width="1" height="38.36" fill="#284d52"/><rect x="456.09" y="855.39" width="1" height="39.11" fill="#65343a"/><rect x="458.02" y="855.59" width="1" height="38.91" fill="#65343a"/><rect x="459.95" y="856.01" width="1" height="38.49" fill="#65343a"/><rect x="461.88" y="855.83" width="1" height="38.67" fill="#65343a"/><rect x="463.81" y="853.13" width="1" height="41.37" fill="#284d52"/><rect x="465.75" y="853.60" width="1" height="40.90" fill="#65343a"/><rect x="467.68" y="853.38" width="1" height="41.12" fill="#284d52"/><rect x="469.61" y="850.61" width="1" height="43.89" fill="#284d52"/><rect x="471.54" y="853.84" width="1" height="40.66" fill="#284d52"/><rect x="473.47" y="854.17" width="1" height="40.33" fill="#65343a"/><rect x="475.41" y="853.66" width="1" height="40.84" fill="#65343a"/><rect x="477.34" y="852.65" width="1" height="41.85" fill="#65343a"/><rect x="479.27" y="853.07" width="1" height="41.43" fill="#65343a"/><rect x="481.20" y="851.32" width="1" height="43.18" fill="#65343a"/><rect x="483.13" y="852.59" width="1" height="41.91" fill="#284d52"/><rect x="485.07" y="853.61" width="1" height="40.89" fill="#284d52"/><rect x="487.00" y="852.35" width="1" height="42.15" fill="#65343a"/><rect x="488.93" y="853.00" width="1" height="41.50" fill="#65343a"/><rect x="490.86" y="851.85" width="1" height="42.65" fill="#65343a"/><rect x="492.79" y="852.16" width="1" height="42.34" fill="#65343a"/><rect x="494.73" y="851.10" width="1" height="43.40" fill="#65343a"/><rect x="496.66" y="851.05" width="1" height="43.45" fill="#284d52"/><rect x="498.59" y="851.68" width="1" height="42.82" fill="#65343a"/><rect x="500.52" y="852.58" width="1" height="41.92" fill="#65343a"/><rect x="502.45" y="849.91" width="1" height="44.59" fill="#65343a"/><rect x="504.39" y="851.09" width="1" height="43.41" fill="#284d52"/><rect x="506.32" y="851.20" width="1" height="43.30" fill="#284d52"/><rect x="508.25" y="850.21" width="1" height="44.29" fill="#284d52"/><rect x="510.18" y="854.13" width="1" height="40.37" fill="#65343a"/><rect x="512.11" y="850.71" width="1" height="43.79" fill="#284d52"/><rect x="514.05" y="853.07" width="1" height="41.43" fill="#65343a"/><rect x="515.98" y="854.88" width="1" height="39.62" fill="#65343a"/><rect x="517.91" y="853.33" width="1" height="41.17" fill="#284d52"/><rect x="519.84" y="852.21" width="1" height="42.29" fill="#65343a"/><rect x="521.77" y="854.03" width="1" height="40.47" fill="#284d52"/><rect x="523.71" y="854.43" width="1" height="40.07" fill="#65343a"/><rect x="525.64" y="854.86" width="1" height="39.64" fill="#65343a"/><rect x="527.57" y="854.91" width="1" height="39.59" fill="#284d52"/><rect x="529.50" y="855.43" width="1" height="39.07" fill="#284d52"/><rect x="531.43" y="854.24" width="1" height="40.26" fill="#284d52"/><rect x="533.37" y="854.39" width="1" height="40.11" fill="#284d52"/><rect x="535.30" y="854.60" width="1" height="39.90" fill="#284d52"/><rect x="537.23" y="853.05" width="1" height="41.45" fill="#65343a"/><rect x="539.16" y="855.00" width="1" height="39.50" fill="#284d52"/><rect x="541.09" y="853.43" width="1" height="41.07" fill="#284d52"/><rect x="543.03" y="855.73" width="1" height="38.77" fill="#284d52"/><rect x="544.96" y="853.51" width="1" height="40.99" fill="#65343a"/><rect x="546.89" y="851.89" width="1" height="42.61" fill="#284d52"/><rect x="548.82" y="855.62" width="1" height="38.88" fill="#284d52"/><rect x="550.75" y="853.66" width="1" height="40.84" fill="#284d52"/><rect x="552.69" y="852.02" width="1" height="42.48" fill="#65343a"/><rect x="554.62" y="853.48" width="1" height="41.02" fill="#65343a"/><rect x="556.55" y="853.01" width="1" height="41.49" fill="#284d52"/><rect x="558.48" y="854.56" width="1" height="39.94" fill="#65343a"/><rect x="560.41" y="852.87" width="1" height="41.63" fill="#284d52"/><rect x="562.35" y="854.52" width="1" height="39.98" fill="#284d52"/><rect x="564.28" y="854.95" width="1" height="39.55" fill="#284d52"/><rect x="566.21" y="851.71" width="1" height="42.79" fill="#65343a"/><rect x="568.14" y="853.64" width="1" height="40.86" fill="#65343a"/><rect x="570.07" y="854.29" width="1" height="40.21" fill="#284d52"/><rect x="572.01" y="852.18" width="1" height="42.32" fill="#284d52"/><rect x="573.94" y="852.81" width="1" height="41.69" fill="#284d52"/><rect x="575.87" y="852.33" width="1" height="42.17" fill="#284d52"/><rect x="577.80" y="853.31" width="1" height="41.19" fill="#65343a"/><rect x="579.73" y="853.26" width="1" height="41.24" fill="#65343a"/><rect x="581.67" y="852.59" width="1" height="41.91" fill="#65343a"/><rect x="583.60" y="854.21" width="1" height="40.29" fill="#65343a"/><rect x="585.53" y="852.49" width="1" height="42.01" fill="#284d52"/><rect x="587.46" y="854.04" width="1" height="40.46" fill="#284d52"/><rect x="589.39" y="853.44" width="1" height="41.06" fill="#284d52"/><rect x="591.33" y="853.44" width="1" height="41.06" fill="#284d52"/><rect x="593.26" y="853.09" width="1" height="41.41" fill="#65343a"/><rect x="595.19" y="853.58" width="1" height="40.92" fill="#65343a"/><rect x="597.12" y="853.25" width="1" height="41.25" fill="#65343a"/><rect x="599.05" y="852.99" width="1" height="41.51" fill="#65343a"/><rect x="600.99" y="852.77" width="1" height="41.73" fill="#284d52"/><rect x="602.92" y="852.73" width="1" height="41.77" fill="#284d52"/><rect x="604.85" y="852.31" width="1" height="42.19" fill="#284d52"/><rect x="606.78" y="853.62" width="1" height="40.88" fill="#65343a"/><rect x="608.71" y="855.06" width="1" height="39.44" fill="#65343a"/><rect x="610.65" y="855.62" width="1" height="38.88" fill="#65343a"/><rect x="612.58" y="855.47" width="1" height="39.03" fill="#65343a"/><rect x="614.51" y="855.06" width="1" height="39.44" fill="#284d52"/><rect x="616.44" y="854.64" width="1" height="39.86" fill="#284d52"/><rect x="618.37" y="854.25" width="1" height="40.25" fill="#65343a"/><rect x="620.31" y="853.94" width="1" height="40.56" fill="#284d52"/><rect x="622.24" y="853.79" width="1" height="40.71" fill="#284d52"/><rect x="624.17" y="855.30" width="1" height="39.20" fill="#284d52"/><rect x="626.10" y="852.09" width="1" height="42.41" fill="#65343a"/><rect x="628.03" y="855.16" width="1" height="39.34" fill="#284d52"/><rect x="629.97" y="854.12" width="1" height="40.38" fill="#284d52"/><rect x="631.90" y="851.13" width="1" height="43.37" fill="#65343a"/><rect x="633.83" y="854.89" width="1" height="39.61" fill="#65343a"/><rect x="635.76" y="854.98" width="1" height="39.52" fill="#65343a"/><rect x="637.69" y="854.94" width="1" height="39.56" fill="#65343a"/><rect x="639.63" y="852.08" width="1" height="42.42" fill="#65343a"/><rect x="641.56" y="854.28" width="1" height="40.22" fill="#65343a"/><rect x="643.49" y="854.53" width="1" height="39.97" fill="#284d52"/><rect x="645.42" y="852.42" width="1" height="42.08" fill="#284d52"/><rect x="647.35" y="852.55" width="1" height="41.95" fill="#65343a"/><rect x="649.29" y="852.34" width="1" height="42.16" fill="#284d52"/><rect x="651.22" y="852.42" width="1" height="42.08" fill="#65343a"/><rect x="653.15" y="852.63" width="1" height="41.87" fill="#284d52"/><rect x="655.08" y="852.11" width="1" height="42.39" fill="#284d52"/><rect x="657.01" y="851.47" width="1" height="43.03" fill="#284d52"/><rect x="658.95" y="851.83" width="1" height="42.67" fill="#284d52"/><rect x="660.88" y="851.87" width="1" height="42.63" fill="#284d52"/><rect x="662.81" y="852.17" width="1" height="42.33" fill="#284d52"/><rect x="664.74" y="853.83" width="1" height="40.67" fill="#284d52"/><rect x="666.67" y="851.99" width="1" height="42.51" fill="#284d52"/><rect x="668.61" y="851.78" width="1" height="42.72" fill="#65343a"/><rect x="670.54" y="852.82" width="1" height="41.68" fill="#284d52"/><rect x="672.47" y="852.72" width="1" height="41.78" fill="#284d52"/><rect x="674.40" y="852.10" width="1" height="42.40" fill="#284d52"/><rect x="676.33" y="852.84" width="1" height="41.66" fill="#284d52"/><rect x="678.27" y="849.80" width="1" height="44.70" fill="#284d52"/><rect x="680.20" y="853.64" width="1" height="40.86" fill="#65343a"/><rect x="682.13" y="849.90" width="1" height="44.60" fill="#65343a"/><rect x="684.06" y="852.93" width="1" height="41.57" fill="#65343a"/><rect x="685.99" y="853.31" width="1" height="41.19" fill="#284d52"/><rect x="687.93" y="850.25" width="1" height="44.25" fill="#284d52"/><rect x="689.86" y="854.08" width="1" height="40.42" fill="#65343a"/><rect x="691.79" y="852.89" width="1" height="41.61" fill="#284d52"/><rect x="693.72" y="853.44" width="1" height="41.06" fill="#284d52"/><rect x="695.65" y="852.74" width="1" height="41.76" fill="#65343a"/><rect x="697.59" y="852.93" width="1" height="41.57" fill="#65343a"/><rect x="699.52" y="852.85" width="1" height="41.65" fill="#284d52"/><rect x="701.45" y="853.70" width="1" height="40.80" fill="#65343a"/><rect x="703.38" y="852.15" width="1" height="42.35" fill="#284d52"/><rect x="705.31" y="855.04" width="1" height="39.46" fill="#284d52"/><rect x="707.25" y="854.53" width="1" height="39.97" fill="#65343a"/><rect x="709.18" y="853.20" width="1" height="41.30" fill="#65343a"/><rect x="711.11" y="853.04" width="1" height="41.46" fill="#65343a"/><rect x="713.04" y="855.29" width="1" height="39.21" fill="#284d52"/><rect x="714.97" y="853.72" width="1" height="40.78" fill="#65343a"/><rect x="716.91" y="855.07" width="1" height="39.43" fill="#65343a"/><rect x="718.84" y="855.47" width="1" height="39.03" fill="#65343a"/><rect x="720.77" y="854.16" width="1" height="40.34" fill="#65343a"/><rect x="722.70" y="854.58" width="1" height="39.92" fill="#284d52"/><rect x="724.63" y="853.85" width="1" height="40.65" fill="#65343a"/><rect x="726.57" y="854.91" width="1" height="39.59" fill="#284d52"/><rect x="728.50" y="851.73" width="1" height="42.77" fill="#284d52"/><rect x="730.43" y="853.82" width="1" height="40.68" fill="#284d52"/><rect x="732.36" y="852.76" width="1" height="41.74" fill="#65343a"/><rect x="734.29" y="853.44" width="1" height="41.06" fill="#65343a"/><rect x="736.23" y="853.72" width="1" height="40.78" fill="#284d52"/><rect x="738.16" y="854.34" width="1" height="40.16" fill="#65343a"/><rect x="740.09" y="852.36" width="1" height="42.14" fill="#65343a"/><rect x="742.02" y="854.23" width="1" height="40.27" fill="#284d52"/><rect x="743.95" y="851.58" width="1" height="42.92" fill="#284d52"/><rect x="745.89" y="853.23" width="1" height="41.27" fill="#65343a"/><rect x="747.82" y="852.87" width="1" height="41.63" fill="#65343a"/><rect x="749.75" y="850.91" width="1" height="43.59" fill="#65343a"/></g>
<path d="M4,855 L15,853.2 L30,852.4 L45,853 L60,854.6 L88,856 L100,854.4 L120,853.8 L135,854 L160,855.6 L185,854.6 L205,854 L225,854.6 L245,856.6 L252,855 L270,854.2 L285,853.6 L300,853.9 L320,853.5 L345,854.6 L365,856 L380,855.3 L405,854 L430,854.4 L462,855 L470,853 L490,852 L503,852 L515,853.5 L532,855 L560,853.5 L575,852.8 L600,853 L620,854.5 L640,853.2 L660,852.4 L680,852 L700,853.3 L720,853.8 L750,853.5" fill="none" stroke="#2d5be3" stroke-width="1.9" stroke-linejoin="round"/>
<rect x="919.9" y="2" width="1.2" height="924" fill="#333642"/>
<rect x="0" y="894.8" width="1024" height="1.1" fill="#333642"/>
<rect x="0" y="0" width="1024" height="2.2" fill="#999a9b"/>
<text x="931.6" y="33.30" font-size="15.4" fill="#b4b6bd" textLength="74.6" lengthAdjust="spacingAndGlyphs" opacity="1">75,000.00</text>
<text x="931.6" y="86.70" font-size="15.4" fill="#b4b6bd" textLength="74.6" lengthAdjust="spacingAndGlyphs" opacity="1">74,000.00</text>
<text x="931.6" y="140.80" font-size="15.4" fill="#b4b6bd" textLength="74.6" lengthAdjust="spacingAndGlyphs" opacity="1">73,000.00</text>
<text x="931.6" y="195.30" font-size="15.4" fill="#b4b6bd" textLength="74.6" lengthAdjust="spacingAndGlyphs" opacity="1">72,000.00</text>
<text x="931.6" y="251.30" font-size="15.4" fill="#b4b6bd" textLength="74.6" lengthAdjust="spacingAndGlyphs" opacity="1">71,000.00</text>
<text x="931.6" y="308.30" font-size="15.4" fill="#b4b6bd" textLength="74.6" lengthAdjust="spacingAndGlyphs" opacity="1">70,000.00</text>
<text x="931.6" y="353.90" font-size="15.4" fill="#b4b6bd" textLength="74.6" lengthAdjust="spacingAndGlyphs" opacity="1">69,200.00</text>
<text x="931.6" y="400.30" font-size="15.4" fill="#b4b6bd" textLength="74.6" lengthAdjust="spacingAndGlyphs" opacity="1">68,400.00</text>
<text x="931.6" y="447.30" font-size="15.4" fill="#b4b6bd" textLength="74.6" lengthAdjust="spacingAndGlyphs" opacity="1">67,600.00</text>
<text x="931.6" y="494.80" font-size="15.4" fill="#b4b6bd" textLength="74.6" lengthAdjust="spacingAndGlyphs" opacity="1">66,800.00</text>
<text x="931.6" y="539.70" font-size="15.4" fill="#b4b6bd" textLength="74.6" lengthAdjust="spacingAndGlyphs" opacity="1">66,050.00</text>
<text x="931.6" y="587.90" font-size="15.4" fill="#b4b6bd" textLength="74.6" lengthAdjust="spacingAndGlyphs" opacity="1">65,250.00</text>
<text x="931.6" y="637.10" font-size="15.4" fill="#b4b6bd" textLength="74.6" lengthAdjust="spacingAndGlyphs" opacity="1">64,450.00</text>
<text x="931.6" y="687.10" font-size="15.4" fill="#b4b6bd" textLength="74.6" lengthAdjust="spacingAndGlyphs" opacity="1">63,650.00</text>
<text x="931.6" y="724.70" font-size="15.4" fill="#b4b6bd" textLength="74.6" lengthAdjust="spacingAndGlyphs" opacity="1">63,050.00</text>
<text x="931.6" y="761.90" font-size="15.4" fill="#b4b6bd" textLength="74.6" lengthAdjust="spacingAndGlyphs" opacity="1">62,450.00</text>
<text x="932.2" y="825.70" font-size="15.4" fill="#b4b6bd" textLength="31" lengthAdjust="spacingAndGlyphs" opacity="1">0.00</text>
<text x="934.6" y="852.10" font-size="15.4" fill="#b4b6bd" textLength="27" lengthAdjust="spacingAndGlyphs" opacity="1">10K</text>
<rect x="921.0" y="830" width="100" height="14.2" fill="#171a26"/>
<rect x="0" y="844.6" width="1024" height="1.4" fill="#e2e2e3"/>
<path d="M921.2,97.4 h90.3 a2.5,2.5 0 0 1 2.5,2.5 v16.4 a2.5,2.5 0 0 1 -2.5,2.5 h-90.3 z" fill="#5c3eb5"/>
<text x="933.2" y="112.70" font-size="15.4" fill="#ffffff" textLength="72" lengthAdjust="spacingAndGlyphs" opacity="1">73,518.77</text>
<path d="M921.2,84.3 h90.3 a2.5,2.5 0 0 1 2.5,2.5 v16.4 a2.5,2.5 0 0 1 -2.5,2.5 h-90.3 z" fill="#e26b93"/>
<text x="933.2" y="99.70" font-size="15.4" fill="#ffffff" textLength="72" lengthAdjust="spacingAndGlyphs" opacity="1">73,763.81</text>
<path d="M921.2,179.7 h90.3 a2.5,2.5 0 0 1 2.5,2.5 v16.4 a2.5,2.5 0 0 1 -2.5,2.5 h-90.3 z" fill="#5c3eb5"/>
<text x="933.2" y="195.10" font-size="15.4" fill="#ffffff" textLength="72" lengthAdjust="spacingAndGlyphs" opacity="1">72,017.19</text>
<path d="M921.2,207.4 h90.3 a2.5,2.5 0 0 1 2.5,2.5 v16.4 a2.5,2.5 0 0 1 -2.5,2.5 h-90.3 z" fill="#f7e956"/>
<text x="933.2" y="222.70" font-size="15.4" fill="#14161f" textLength="72" lengthAdjust="spacingAndGlyphs" opacity="1">71,523.53</text>
<path d="M921.2,409.1 h90.3 a2.5,2.5 0 0 1 2.5,2.5 v16.4 a2.5,2.5 0 0 1 -2.5,2.5 h-90.3 z" fill="#f7e24a"/>
<text x="933.2" y="424.50" font-size="15.4" fill="#14161f" textLength="72" lengthAdjust="spacingAndGlyphs" opacity="1">67,995.06</text>
<path d="M921.2,474.1 h90.3 a2.5,2.5 0 0 1 2.5,2.5 v16.4 a2.5,2.5 0 0 1 -2.5,2.5 h-90.3 z" fill="#ffffff"/>
<text x="933.2" y="489.50" font-size="15.4" fill="#14161f" textLength="72" lengthAdjust="spacingAndGlyphs" opacity="1">66,894.33</text>
<path d="M921.2,244 h90.3 a2.5,2.5 0 0 1 2.5,2.5 v51.3 a2.5,2.5 0 0 1 -2.5,2.5 h-90.3 z" fill="#f09a37"/>
<text x="933.2" y="259.10" font-size="15.4" fill="#14161f" textLength="72" lengthAdjust="spacingAndGlyphs" opacity="1">70,866.72</text>
<text x="932.6" y="276.90" font-size="15.4" fill="#14161f" textLength="54.5" lengthAdjust="spacingAndGlyphs" opacity="1">+5.78%</text>
<text x="933.4" y="293.70" font-size="15.4" fill="#14161f" textLength="40" lengthAdjust="spacingAndGlyphs" opacity="0.72">19:14</text>
<path d="M851.4,244 H920 V265.6 H851.4 a2.5,2.5 0 0 1 -2.5,-2.5 V246.5 a2.5,2.5 0 0 1 2.5,-2.5 Z" fill="#f09a37"/>
<text x="854.6" y="259.5" font-size="15.4" fill="#14161f" textLength="60" lengthAdjust="spacingAndGlyphs">BTCUSD</text>
<text x="39.3" y="918.6" font-size="15" fill="#b4b6bd" text-anchor="middle" textLength="17.2" lengthAdjust="spacingAndGlyphs">26</text>
<text x="132" y="918.6" font-size="15" fill="#b4b6bd" text-anchor="middle" textLength="17.2" lengthAdjust="spacingAndGlyphs">27</text>
<text x="224.9" y="918.6" font-size="15" fill="#b4b6bd" text-anchor="middle" textLength="17.2" lengthAdjust="spacingAndGlyphs">28</text>
<text x="317.5" y="918.6" font-size="15" fill="#b4b6bd" text-anchor="middle" font-weight="bold" textLength="28" lengthAdjust="spacingAndGlyphs">Mar</text>
<text x="410.3" y="918.6" font-size="15" fill="#b4b6bd" text-anchor="middle" >2</text>
<text x="502.8" y="918.6" font-size="15" fill="#b4b6bd" text-anchor="middle" >3</text>
<text x="595.7" y="918.6" font-size="15" fill="#b4b6bd" text-anchor="middle" >4</text>
<text x="688.4" y="918.6" font-size="15" fill="#b4b6bd" text-anchor="middle" >5</text>
<text x="780.8" y="918.6" font-size="15" fill="#b4b6bd" text-anchor="middle" >6</text>
<text x="873.5" y="918.6" font-size="15" fill="#b4b6bd" text-anchor="middle" >7</text>
<circle cx="974.5" cy="912.7" r="11.5" fill="#282a33"/>
<text x="974.5" y="917.8" font-size="14" fill="#8b8e98" text-anchor="middle">A</text>
<circle cx="26.4" cy="19.9" r="11.2" fill="#f0923a"/>
<text x="26.5" y="24.6" font-size="13.4" font-weight="bold" fill="#ffffff" text-anchor="middle" transform="rotate(12 26.4 19.9)">&#8383;</text>
<text x="42.6" y="27" font-size="19.2" fill="#c3c5cb" textLength="285.6" lengthAdjust="spacingAndGlyphs">Bitcoin / U.S. Dollar · 30 · INDEX</text>
<path d="M344.3,12.7 H358.7 L354.2,20 L358.7,27.2 H344.3 Z" fill="#f0605a"/>
<circle cx="384.4" cy="20" r="11" fill="#1f3b3c"/><circle cx="384.4" cy="20" r="5" fill="#4fa89b"/>
<text x="14.5" y="51.8" font-size="15.8" fill="#b9bbc2">O</text>
<text x="28.5" y="51.8" font-size="15.8" fill="#e8952f" textLength="78.5" lengthAdjust="spacingAndGlyphs">71,665.57</text>
<text x="116" y="51.8" font-size="15.8" fill="#b9bbc2">H</text>
<text x="129.5" y="51.8" font-size="15.8" fill="#e8952f" textLength="78.5" lengthAdjust="spacingAndGlyphs">71,667.07</text>
<text x="217.3" y="51.8" font-size="15.8" fill="#b9bbc2">L</text>
<text x="228.5" y="51.8" font-size="15.8" fill="#e8952f" textLength="78.5" lengthAdjust="spacingAndGlyphs">70,832.48</text>
<text x="315.6" y="51.8" font-size="15.8" fill="#b9bbc2">C</text>
<text x="329" y="51.8" font-size="15.8" fill="#e8952f" textLength="78.5" lengthAdjust="spacingAndGlyphs">70,866.72</text>
<text x="416.5" y="51.8" font-size="15.8" fill="#e8952f" textLength="141" lengthAdjust="spacingAndGlyphs">−790.72 (−1.10%)</text>
<rect x="15.8" y="62.2" width="104.6" height="40.6" rx="6" fill="#0c0d12" stroke="#d64a4a" stroke-width="1.5"/>
<text x="68.1" y="79.7" font-size="14.8" fill="#e0494b" stroke="#e0494b" stroke-width="0.35" text-anchor="middle" textLength="77" lengthAdjust="spacingAndGlyphs">70,862.74</text>
<text x="68.1" y="96.2" font-size="13.6" fill="#e0494b" stroke="#e0494b" stroke-width="0.35" text-anchor="middle" textLength="33.5" lengthAdjust="spacingAndGlyphs">SELL</text>
<rect x="170.2" y="62.2" width="104.6" height="40.6" rx="6" fill="#0c0d12" stroke="#2f5be0" stroke-width="1.5"/>
<text x="222.5" y="79.7" font-size="14.8" fill="#3a6cf0" stroke="#3a6cf0" stroke-width="0.35" text-anchor="middle" textLength="77" lengthAdjust="spacingAndGlyphs">70,862.74</text>
<text x="222.5" y="96.2" font-size="13.6" fill="#3a6cf0" stroke="#3a6cf0" stroke-width="0.35" text-anchor="middle" textLength="28" lengthAdjust="spacingAndGlyphs">BUY</text>
<text x="145.2" y="86.9" font-size="13" fill="#d2d3d7" text-anchor="middle">0.00</text>
<rect x="15.8" y="113.2" width="49.6" height="25" rx="4" fill="#171a26" stroke="#363946" stroke-width="1"/>
<path d="M23.6,123.6 L27.6,127.4 L31.6,123.6" fill="none" stroke="#d0d1d6" stroke-width="1.6" stroke-linecap="round" stroke-linejoin="round"/>
<text x="41.5" y="131.6" font-size="16" fill="#d0d1d6" textLength="18" lengthAdjust="spacingAndGlyphs">10</text>
<g fill="#e4e4e5" stroke="#0e1016" stroke-width="3.6" stroke-linejoin="miter" paint-order="stroke"><path d="M18.8,858.6 H33.8 V877.2 H25.7 V866.4 H18.8 Z"/><circle cx="40.2" cy="862.5" r="3.8"/><path d="M47.6,858.6 H56.3 L49.4,877.2 H40.7 Z"/></g>
<circle cx="750.2" cy="769" r="14.4" fill="#0d0e13"/><circle cx="750.2" cy="769" r="12.6" fill="#0d0e13" stroke="#ae4fc2" stroke-width="1.7"/>
<path d="M755,762.2 L744.4,770.4 H749.6 L745.6,776.6 L756,767.4 H750.8 Z" fill="#b352c8" stroke="#b352c8" stroke-width="0.9" stroke-linejoin="round"/>
<circle cx="759" cy="760.5" r="4.9" fill="#0d0e13"/><circle cx="759" cy="760.5" r="3.4" fill="#e8484e"/>
<circle cx="833.4" cy="768.6" r="14.6" fill="#0d0e13"/><circle cx="833.4" cy="768.6" r="12.9" fill="#0d0e13" stroke="#df4a4e" stroke-width="2.2"/>
<clipPath id="fc"><circle cx="833.4" cy="768.6" r="10.2"/></clipPath>
<g clip-path="url(#fc)"><rect x="822" y="757" width="24" height="24" fill="#f2f2f2"/><rect x="822" y="758" width="24" height="4.2" fill="#e4524f"/><rect x="822" y="766.4" width="24" height="4.2" fill="#e4524f"/><rect x="822" y="774.8" width="24" height="4.6" fill="#e4524f"/><rect x="822" y="757" width="13.6" height="13.6" fill="#4a7fe0"/><g fill="#ffffff"><circle cx="826.3" cy="761" r="0.8"/><circle cx="829.6" cy="761" r="0.8"/><circle cx="832.9" cy="761" r="0.8"/><circle cx="826.3" cy="764.3" r="0.8"/><circle cx="829.6" cy="764.3" r="0.8"/><circle cx="832.9" cy="764.3" r="0.8"/><circle cx="826.3" cy="767.6" r="0.8"/><circle cx="829.6" cy="767.6" r="0.8"/><circle cx="832.9" cy="767.6" r="0.8"/></g></g>
<path d="M748,795.6 L755.4,806 V825 a2.5,2.5 0 0 0 2.5,2.5 H839.2 a2.5,2.5 0 0 0 2.5,-2.5 V806.3 a2.5,2.5 0 0 0 -2.5,-2.5 H755.2 Z" fill="#3b86a0" opacity="0.9"/>
<rect x="749.7" y="797.2" width="1" height="23.6" fill="#3b86a0"/>
<text x="762.2" y="820.4" font-size="13.4" fill="#101a24" stroke="#101a24" stroke-width="0.25" textLength="71.5" lengthAdjust="spacingAndGlyphs">CME: 1.33%</text>
</svg>
</body></html>
